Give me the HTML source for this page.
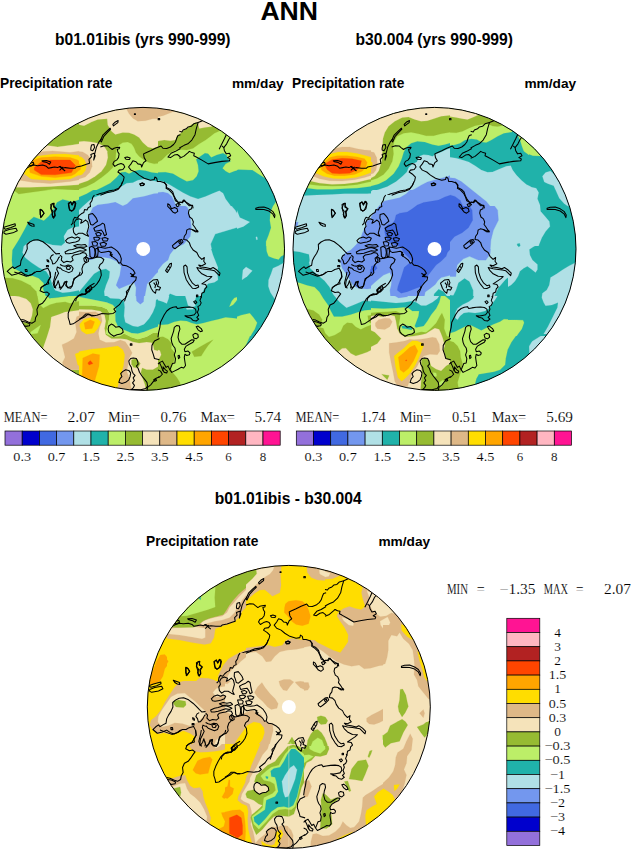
<!DOCTYPE html>
<html><head><meta charset="utf-8">
<style>
html,body{margin:0;padding:0;background:#fff;}
body{width:631px;height:850px;overflow:hidden;position:relative;font-family:"Liberation Sans",sans-serif;}
svg{position:absolute;left:0;top:0;}
.b{font-family:"Liberation Sans",sans-serif;font-weight:bold;fill:#000;}
.s{font-family:"Liberation Serif",serif;fill:#000;stroke:#fff;stroke-width:0.12px;}
</style></head><body>
<svg width="631" height="850" viewBox="0 0 631 850">
<defs>
<clipPath id="c1"><circle cx="143.0" cy="248.9" r="141.5"/></clipPath>
<clipPath id="c2"><circle cx="434.5" cy="248.9" r="141.5"/></clipPath>
<clipPath id="c3"><circle cx="288.8" cy="706.9" r="141.5"/></clipPath>
<g id="coast" fill="none" stroke="#000" stroke-width="1.05" stroke-linejoin="round">
<clipPath id="cw"><path clip-rule="evenodd" d="M-10 0H640V860H-10Z M60 195H139V301H60Z"/></clipPath>
<g clip-path="url(#cw)">
<path d="M3.1 227.6 L7.86 225.97 L15.12 223.84 L15.37 225.72 L10.99 227.6 L5.36 229.22 Z"/>
<path d="M4.11 231.35 L9.11 229.48 L16.0 228.22 L17.25 230.73 L12.87 232.86 L5.98 234.23 L3.86 232.98 Z"/>
<path d="M27.64 222.21 L30.4 223.22 L33.9 224.47 L34.15 226.35 L31.65 225.97 L29.15 224.47 Z"/>
<path d="M40.16 209.19 L42.29 210.45 L44.17 213.2 L42.29 215.7 L40.66 217.58 L40.41 213.83 Z"/>
<path d="M52.31 203.81 L54.19 203.18 L53.56 206.94 L56.69 208.82 L54.81 211.95 L55.19 215.7 L53.56 218.21 L51.93 214.45 L52.93 211.32 L50.68 208.19 Z"/>
<path d="M68.96 203.18 L71.09 201.68 L72.34 205.06 L74.22 201.93 L76.09 201.68 L75.22 206.94 L72.96 211.32 L70.46 210.07 L68.96 206.94 Z"/>
<path d="M53.56 254.51 L51.43 255.77 L50.18 258.27 L51.93 260.77 L52.68 263.9 L54.81 263.53 L57.32 260.52 L58.94 257.27 L61.7 256.39 L61.95 254.26 L59.19 253.51 L56.06 253.89 L53.56 251.38 L50.43 248.0 L47.3 245.13 L42.92 241.74 L37.91 239.74 L33.53 240.12 L29.77 242.0 L27.02 244.5 L27.27 248.88 L25.39 253.26 L22.89 257.02 L21.01 260.77 L20.38 265.16 L17.25 266.78 L14.37 268.54 L12.87 266.78 L10.12 268.66 L7.24 271.42 L11.62 275.17 L16.63 273.92 L21.01 272.04 L24.76 274.55 L28.52 275.8 L32.9 273.92 L36.66 271.42 L40.41 271.42 L43.54 269.54 L47.93 268.29 L49.8 272.04 L50.43 277.05 L48.55 280.81 L46.05 284.56 L42.29 286.44 L40.41 288.32"/>
<path d="M25.14 269.54 L26.89 269.54 L27.14 271.54 L25.39 271.54 Z"/>
<path d="M46.92 259.77 L48.43 260.27 L48.93 262.03 L47.42 261.53 Z"/>
<path d="M46.42 265.53 L48.43 265.53 L48.43 266.78 L46.42 266.78 Z"/>
<path d="M80.48 215.08 L75.47 216.33 L72.34 218.21 L71.71 221.96 L69.83 225.09 L72.96 225.72 L75.47 223.22 L74.84 219.46 L78.6 217.58"/>
<path d="M80.48 231.35 L75.47 232.61 L71.71 231.35 L68.58 233.86 L67.33 236.99 L70.46 238.24 L74.22 236.99 L80.48 235.74"/>
<path d="M66.08 240.12 L70.46 241.37 L74.22 240.74 L80.48 238.87"/>
<path d="M80.48 245.75 L75.47 247.0 L71.71 249.51 L67.96 250.13 L64.83 252.64 L67.96 254.51 L71.71 253.26 L75.47 251.38 L80.48 250.13"/>
<path d="M62.32 255.77 L65.45 257.02 L68.58 259.52 L72.96 258.27 L76.09 255.77 L80.48 257.02"/>
<path d="M80.48 262.03 L75.47 264.53 L71.71 265.16 L68.58 268.29 L64.83 267.03 L62.32 269.54 L59.82 268.29 L57.32 267.03 L56.69 269.54 L58.57 273.29 L56.69 277.05 L54.81 280.81 L54.19 285.81 L56.06 288.32"/>
<path d="M66.7 267.03 L69.21 265.53 L71.96 267.03 L70.46 269.54 L67.71 269.54 Z"/>
<path d="M80.48 275.17 L75.47 277.68 L73.59 282.06 L72.34 288.32"/>
<path d="M59.19 288.32 L60.45 283.31 L62.32 279.55 L64.2 282.06 L65.45 288.32"/>
<path d="M122.54 181.9 L121.29 185.03 L118.79 188.16 L114.41 190.04 L109.4 190.66 L104.39 192.54 L99.38 193.79 L95.0 195.67 L92.5 197.55 L91.87 201.31 L89.99 204.44 L88.74 207.57 L86.24 208.82 L84.36 211.32 L81.85 213.2 L79.35 215.08"/>
<path d="M140.07 183.78 L142.58 182.9 L144.45 184.15 L142.58 185.41 L140.45 185.03 Z"/>
<path d="M88.11 215.08 L91.24 213.2 L93.75 214.45 L95.63 217.58 L98.13 219.46 L96.25 221.96 L93.12 223.84 L91.24 222.59 L89.99 219.46 L88.11 217.58 Z"/>
<path d="M101.26 223.22 L103.76 222.21 L105.02 225.72 L105.64 230.1 L103.76 231.35 L101.89 228.22 L100.01 225.72 Z"/>
<path d="M94.37 228.85 L98.13 226.97 L100.63 230.1 L99.38 233.23 L95.63 233.86 L93.75 231.98 Z"/>
<path d="M103.14 231.98 L106.27 231.35 L107.14 235.11 L105.02 236.36 L102.89 234.48 Z"/>
<path d="M93.75 236.99 L98.13 236.36 L101.26 237.61 L100.63 240.12 L96.88 240.74 L93.37 239.49 Z"/>
<path d="M102.51 239.49 L106.27 238.49 L108.77 240.74 L106.89 243.25 L103.76 242.62 Z"/>
<path d="M91.24 243.25 L95.63 242.62 L98.13 244.5 L96.88 247.0 L92.5 247.0 Z"/>
<path d="M100.01 245.13 L104.39 244.5 L106.27 247.0 L103.76 249.51 L100.63 248.25 Z"/>
<path d="M95.63 248.25 L98.13 250.13 L100.63 252.01 L105.02 252.64 L109.4 251.38 L110.65 247.0 L113.15 248.25 L116.28 252.01 L119.41 255.77 L120.67 259.52 L118.79 262.03 L115.66 261.4 L112.15 260.15 L109.4 262.03 L106.27 260.15 L102.51 257.02 L98.13 256.39 L96.25 253.26 Z"/>
<path d="M89.99 248.25 L93.12 248.88 L94.37 253.26 L93.75 257.02 L91.24 257.64 L89.99 253.26 Z"/>
<path d="M79.35 231.98 L83.11 231.35 L86.24 232.61 L87.49 235.74 L84.98 237.61 L80.6 236.99 L79.35 236.36"/>
<path d="M79.35 240.12 L83.73 239.49 L86.86 241.37 L86.24 244.5 L81.85 245.13 L79.35 243.87"/>
<path d="M79.35 248.25 L84.36 248.25 L87.49 250.76 L88.11 255.77 L85.61 259.52 L83.11 262.03 L84.36 257.02 L81.85 253.26 L79.35 252.64"/>
<path d="M79.35 218.21 L81.23 219.46 L82.48 222.59 L80.6 223.22 L79.35 221.96"/>
<path d="M89.99 288.32 L91.24 285.19 L94.37 282.68 L98.13 278.93 L100.63 274.55 L101.26 269.54 L98.76 265.78 L99.38 262.03 L101.26 258.27 L103.14 260.15 L106.27 262.03 L110.65 263.9 L115.66 262.03 L119.41 262.65 L122.54 265.16 L128.18 265.78 L131.93 268.29 L133.81 272.04 L131.93 273.92 L134.44 275.17 L136.94 277.05 L135.69 280.18 L133.19 283.31 L130.68 285.81 L129.43 288.32"/>
<path d="M129.43 273.92 L132.56 275.17 L134.44 274.55"/>
<path d="M130.06 276.42 L133.19 273.92"/>
<path d="M85.61 260.77 L83.73 265.16 L81.85 269.54 L79.98 273.29 L79.35 275.8"/>
</g>
<path d="M26.36 168.23 L30.11 166.35 L33.87 165.1 L37.63 165.73 L42.63 165.1 L46.39 166.35 L48.27 168.23 L51.4 167.61 L54.53 166.98 L57.66 167.61 L60.16 166.35 L62.67 168.23 L65.17 167.61 L70.18 168.23 L75.19 168.23 L76.44 166.98 L81.45 165.98 L86.45 164.22 L89.58 163.22 L88.96 159.47 L91.46 156.96 L90.83 154.46 L93.96 153.21 L95.22 155.71 L93.71 160.09 L94.59 154.46 L96.47 146.95 L98.97 141.94 L101.48 138.81"/>
<path d="M30.11 163.22 L33.24 162.22 L33.87 164.22 L31.12 165.73 L28.86 165.1 Z"/>
<path d="M42.01 160.72 L46.39 160.47 L50.77 161.97 L49.52 164.22 L47.02 162.6 L43.26 161.72 Z"/>
<path d="M58.91 166.35 L62.04 168.48 L65.17 170.99"/>
<path d="M59.54 170.48 L63.29 166.98"/>
<path d="M90.83 148.2 L91.46 145.07 L93.96 144.44 L94.59 147.57 L92.71 150.7 L90.83 150.08 Z"/>
<path d="M40.13 209.55 L42.01 210.17 L43.89 213.3 L41.38 217.06 L40.13 214.55 Z"/>
<path d="M50.77 204.54 L53.28 203.29 L54.15 206.42 L56.41 208.92 L54.15 211.42 L54.9 215.81 L52.65 217.06 L52.4 213.3 L51.15 209.55 Z"/>
<path d="M68.3 203.29 L70.8 202.03 L72.06 205.16 L73.93 202.03 L75.81 203.29 L74.56 208.92 L72.06 210.8 L69.55 210.17 L68.67 206.42 Z"/>
<path d="M100.35 140.71 L102.85 135.08 L106.61 131.32 L110.12 128.19 L110.62 129.19 L107.24 132.57 L103.86 136.33 L101.35 141.96 Z"/>
<path d="M112.87 124.44 L115.37 121.93 L118.13 120.43 L117.88 122.56 L115.37 124.44 L113.5 125.94 Z"/>
<path d="M134.4 113.67 L135.41 113.67 L135.41 114.42 L134.4 114.42 Z"/>
<path d="M158.19 118.43 L159.69 118.43 L159.69 119.68 L158.19 119.68 Z"/>
<path d="M100.35 146.97 L104.11 145.72 L107.86 145.97 L109.74 147.6 L112.24 149.48 L114.12 148.22 L116.63 147.6 L119.76 147.22 L119.13 148.85 L117.25 149.22 L117.88 151.98 L119.13 153.86 L118.5 157.61 L116.63 160.12 L114.12 161.37 L112.87 163.87 L114.75 166.38 L117.88 164.5 L121.01 163.5 L123.51 164.5 L124.76 167.0 L122.89 169.51 L119.13 170.13 L117.88 172.01 L121.63 174.51 L124.14 177.02 L123.51 180.15 L122.26 182.65 L121.01 185.78 L117.88 189.54 L112.87 191.42 L106.61 192.67 L100.35 195.17"/>
<path d="M124.76 157.61 L127.27 156.99 L130.15 157.99 L129.4 159.49 L126.02 159.24 Z"/>
<path d="M180.48 134.7 L177.97 135.45 L176.72 138.21 L175.47 141.96 L173.59 144.47 L170.46 146.97 L166.7 148.47 L162.95 148.22 L161.07 145.97 L155.44 148.22 L150.43 150.73 L145.42 152.98 L143.54 153.86 L144.17 157.61 L146.05 160.74 L143.54 162.62 L141.67 167.0 L141.04 164.5 L137.91 163.87 L136.03 161.74 L132.9 160.74 L131.02 163.87 L128.52 167.0 L131.02 170.13 L135.41 172.01 L139.16 175.14 L144.17 178.27 L150.43 180.15 L154.19 179.52 L154.81 177.02 L156.69 178.27 L157.32 181.4 L160.45 181.4 L164.2 182.65 L166.7 185.16 L166.08 188.29 L169.21 190.16 L172.34 193.29 L174.22 197.05 L175.47 200.81 L177.97 202.06 L180.48 205.19"/>
<path d="M180.48 148.47 L175.47 151.35 L171.09 153.23 L167.96 156.99 L170.46 157.61 L174.22 155.11 L177.35 154.48 L180.48 156.99"/>
<path d="M139.79 183.9 L142.29 183.03 L144.42 183.9 L143.54 185.53 L140.66 185.78 Z"/>
<path d="M202.51 120.68 L198.13 122.56 L196.25 128.82 L195.0 134.7 L191.87 140.09 L187.86 143.84 L184.11 145.34 L179.35 147.97"/>
<path d="M198.13 122.56 L193.75 123.81 L191.24 126.31 L188.11 126.94 L186.24 128.82 L183.11 130.07 L181.85 131.95 L179.35 131.32"/>
<path d="M179.35 158.24 L183.73 156.36 L188.11 152.61 L189.37 151.35 L191.87 152.61 L194.37 153.23 L193.75 155.74 L196.25 156.99 L201.89 160.12 L208.15 163.87 L214.41 162.62 L221.92 161.37 L229.43 160.74 L230.06 158.87 L227.55 157.61 L230.68 155.74 L229.43 153.23 L226.3 153.86 L224.42 150.73 L223.8 147.6 L221.92 145.97"/>
<path d="M219.16 149.22 L221.29 145.09 L224.42 138.83 L226.3 134.7"/>
<path d="M223.8 147.6 L226.67 143.84 L228.8 139.46 L230.43 137.21"/>
<path d="M179.35 202.06 L182.48 202.68 L184.36 200.18 L186.86 203.31 L189.37 205.81 L192.5 205.19 L193.12 208.32"/>
<path d="M163.98 181.9 L165.86 184.4 L166.49 187.53 L170.24 189.41 L172.75 191.92 L174.0 195.67 L175.88 199.43 L178.38 202.56 L182.14 201.93 L183.39 200.05 L186.52 202.56 L189.65 204.44 L192.15 205.69 L191.53 208.82 L189.02 210.07 L188.4 213.2 L189.65 216.96 L192.15 218.83 L193.41 221.96 L192.78 224.47 L194.66 226.97 L197.79 231.98 L192.15 229.48 L189.02 228.85 L186.52 230.1"/>
<path d="M167.74 203.81 L169.62 205.06 L171.5 208.82 L174.63 207.57 L177.13 208.82 L177.76 211.32 L175.25 213.2 L172.75 211.95 L170.24 208.82 L167.74 206.31 Z"/>
<path d="M175.88 204.44 L178.38 203.18 L179.01 205.69 L177.13 206.69 Z"/>
<path d="M186.82 230.0 L186.19 233.76 L184.32 236.26 L183.69 239.39 L186.82 240.02 L189.32 242.52 L190.58 246.28 L193.08 250.03 L196.84 252.54 L198.71 256.29 L201.84 259.42 L204.35 257.54 L203.72 261.3 L205.6 263.8 L201.84 265.68 L198.71 265.06 L200.59 266.93 L205.6 267.56 L210.61 268.81 L213.11 267.56 L216.87 270.06 L220.0 273.19 L219.37 275.7 L216.87 273.19 L214.36 270.69 L211.23 270.06 L206.85 269.44 L201.84 268.81 L196.84 267.56 L198.71 270.69 L201.84 273.82 L206.85 276.32 L211.86 276.57 L209.35 278.83 L205.6 281.33 L201.84 283.84 L205.6 284.46 L206.85 286.97 L204.97 288.84 L204.35 291.97 L201.84 293.23 L201.22 297.61"/>
<path d="M196.46 295.1 L197.84 295.1 L197.84 296.73 L196.46 296.73 Z"/>
<path d="M172.42 245.65 L176.18 242.52 L179.31 240.02 L181.81 239.39 L183.06 241.89 L180.56 244.4 L177.43 246.9 L174.93 248.78 L173.05 247.53 Z"/>
<path d="M178.68 241.89 L180.56 240.64 L181.19 242.52 L179.56 243.52 Z"/>
<path d="M192.45 230.0 L195.58 231.88 L198.09 231.25 L196.84 230.0"/>
<path d="M165.54 270.69 L167.41 267.56 L169.92 263.8 L171.55 263.18 L171.17 266.31 L169.29 269.44 L167.41 272.57 Z"/>
<path d="M168.04 266.31 L169.92 267.56"/>
<path d="M166.79 269.81 L168.67 270.31"/>
<path d="M149.26 283.21 L153.02 280.08 L157.4 279.45 L158.65 282.58 L157.4 286.34 L160.53 287.59 L159.28 290.1 L156.15 289.47 L155.52 293.23 L153.02 291.35 L151.14 288.22 Z"/>
<path d="M153.64 282.58 L155.52 285.09 L154.89 288.22"/>
<path d="M156.15 281.33 L156.77 285.09"/>
<path d="M183.69 266.31 L185.57 265.06 L187.07 266.93 L187.45 272.57 L189.32 278.2 L192.45 283.21 L195.58 285.71 L198.09 285.09 L198.71 286.97 L195.58 288.59 L192.45 288.22 L189.32 284.46 L186.19 279.45 L184.06 272.57 Z"/>
<path d="M255.79 208.22 L258.92 207.21 L263.93 206.96 L268.93 208.84 L272.69 211.35 L274.94 215.1 L274.57 217.61 L272.69 213.85 L268.93 210.97 L263.93 209.47 L258.92 209.22 L255.79 209.47 Z"/>
<path d="M85.61 289.66 L88.11 287.78 L91.24 286.53 L91.87 289.03 L89.37 291.53 L86.86 290.91 Z"/>
<path d="M79.35 295.29 L83.11 294.66 L86.24 293.41 L85.61 290.28"/>
<path d="M79.35 319.08 L82.48 317.2 L85.61 314.07 L88.74 314.07 L91.87 315.95 L96.88 315.32 L101.89 313.44 L108.15 314.07 L113.15 313.44 L115.66 311.57 L113.78 309.06 L116.28 307.18 L119.41 304.68 L121.92 300.92 L125.05 298.42 L126.93 294.66 L126.3 291.53 L128.8 289.03 L130.06 285.9"/>
<path d="M108.15 329.09 L108.77 325.96 L111.28 324.09 L113.78 325.34 L115.66 327.22 L119.41 326.59 L122.54 329.09 L123.17 332.22 L120.67 334.1 L116.91 334.73 L113.78 336.23 L110.65 334.1 L108.77 332.22 Z"/>
<path d="M130.31 343.87 L131.93 343.87 L131.93 345.24 L130.31 345.24 Z"/>
<path d="M159.48 338.48 L154.47 340.99 L151.96 345.37 L151.71 349.75 L153.22 354.13 L154.47 358.51 L159.48 359.77"/>
<path d="M128.8 361.02 L130.68 358.51 L133.19 357.89 L136.32 358.51 L137.57 361.02 L138.19 364.15 L136.32 366.03 L138.19 368.53 L139.45 372.29 L141.95 376.04 L144.45 379.17 L146.96 382.3 L147.58 386.06 L145.7 388.56 L140.7 389.81 L134.44 389.56 L130.68 390.06 L133.19 387.94 L134.44 385.43 L132.56 382.93 L134.44 380.42 L133.19 377.92 L135.06 375.42 L133.19 373.54 L131.93 371.03 L131.31 367.28 L129.43 364.15 Z"/>
<path d="M120.67 373.54 L122.54 371.66 L125.67 369.78 L128.8 370.41 L130.68 372.91 L130.06 376.67 L128.8 379.8 L125.67 382.3 L121.92 383.55 L118.79 382.3 L120.04 378.55 L121.92 376.67 Z"/>
<path d="M159.48 376.67 L155.72 378.55 L153.22 381.68 L150.71 384.81 L147.58 387.31 L146.96 391.07"/>
<path d="M153.84 379.55 L155.72 378.8 L156.47 380.42 L154.72 381.3 Z"/>
<path d="M158.0 337.32 L158.63 332.31 L159.88 327.3 L160.5 322.29 L162.38 318.54 L164.26 314.78 L166.76 311.02 L169.89 308.52 L173.02 307.27 L176.15 306.64 L177.41 308.52 L180.54 307.89 L184.92 307.27 L189.3 307.02 L193.06 307.52 L195.56 309.15 L196.19 312.28 L194.31 314.78 L191.18 315.41 L188.05 316.03 L184.92 315.78 L187.42 317.28 L190.55 317.91 L193.06 320.41 L196.19 321.04 L198.69 319.16 L196.81 317.28 L198.69 315.41 L197.44 312.28 L198.69 309.15 L197.81 306.64 L199.94 305.39 L201.19 302.89 L199.94 300.38 L201.19 297.25 L200.57 296.0"/>
<path d="M193.68 301.63 L195.56 300.76 L196.81 302.26 L195.31 303.76 Z"/>
<path d="M174.28 327.3 L176.78 325.42 L179.28 326.05 L179.91 329.18 L178.66 332.93 L178.03 337.32 L179.28 341.7 L181.79 344.2 L184.92 344.2 L188.67 341.7 L191.8 339.82 L194.31 340.07 L193.06 342.32 L189.3 344.2 L186.17 346.08 L184.29 349.21 L184.92 351.71 L188.05 351.09 L189.93 352.97 L189.3 354.84 L186.8 355.47 L184.92 354.22 L184.29 357.35 L184.92 361.73 L185.54 365.48 L183.67 367.99 L181.16 367.36 L178.03 369.24 L174.28 371.12 L171.77 372.37 L169.89 369.87 L171.15 366.74 L172.4 363.61 L174.9 362.98 L175.53 358.6 L174.28 354.84 L175.53 351.09 L174.9 347.96 L173.02 345.45 L171.77 342.32 L171.15 338.57 L172.4 334.81 L173.65 331.06 Z"/>
<path d="M178.03 355.84 L179.28 355.34 L179.78 357.6 L178.53 358.6 Z"/>
<path d="M196.19 326.67 L198.06 326.05 L201.19 328.55 L202.45 331.06 L200.57 331.68 L198.06 329.8 Z"/>
<path d="M192.81 334.81 L194.93 333.31 L197.81 334.19 L198.31 337.06 L196.19 338.82 L193.68 337.94 Z"/>
<path d="M158.0 364.23 L159.88 362.35 L162.38 361.1 L164.26 364.23 L166.14 367.36 L168.02 366.11 L169.89 369.87"/>
<path d="M163.01 366.74 L165.51 369.87 L167.39 371.12 L166.76 373.0 L164.26 372.37 L163.01 370.49 Z"/>
<path d="M158.0 369.87 L160.5 371.12 L162.38 374.25 L159.88 376.75 L158.0 377.38"/>
<path d="M159.25 362.35 L161.13 366.11 L163.01 371.12"/>
<path d="M50.03 271.9 L50.66 276.91 L48.15 280.66 L48.78 283.79 L44.4 285.05 L41.27 287.55 L40.02 290.68 L43.77 292.56 L46.9 291.93 L49.41 293.81 L47.53 296.31 L45.02 300.07 L42.52 303.2 L38.76 305.08 L36.89 309.46 L37.51 314.47 L35.63 317.6 L35.01 321.35 L31.88 323.23 L28.12 321.98 L24.37 320.1 L21.24 319.48"/>
<path d="M21.24 321.35 L25.62 321.98 L30.0 323.86 L29.37 325.74 L25.62 326.36 L23.11 324.48 Z"/>
<path d="M14.35 271.9 L19.36 273.78 L26.24 276.28 L31.88 274.4 L35.01 271.9"/>
<path d="M55.67 271.9 L55.04 275.66 L54.41 278.16 L53.16 283.17 L54.41 287.55 L56.92 284.42 L58.17 280.66 L59.42 285.05 L60.67 288.18 L63.18 285.67 L64.43 281.92 L66.93 281.29 L65.68 285.67 L68.19 287.55 L71.94 286.3 L73.19 282.54 L73.82 278.79 L76.95 276.91 L79.45 274.4 L80.08 271.9"/>
<path d="M94.48 283.17 L90.09 285.67 L87.59 287.55 L85.71 290.68 L87.59 292.56 L85.09 294.44 L81.96 293.81 L78.2 295.69 L75.07 298.82 L72.57 303.2 L70.06 308.21 L68.19 313.22 L68.19 317.6 L69.44 321.35 L70.06 324.48 L73.19 323.86 L76.95 321.35 L80.7 318.85 L84.46 316.97 L87.59 314.47 L90.72 315.09 L94.48 315.72"/>
<path d="M94.43 195.0 L92.8 197.25 L91.93 200.63 L90.05 203.51 L90.55 206.52 L88.29 207.52 L87.04 210.02 L84.54 209.52 L83.79 212.53 L81.28 213.78 L79.03 215.66 L77.15 218.16 L74.77 217.29 L73.27 219.79 L72.77 223.17 L71.02 225.05"/>
<path d="M88.8 214.41 L92.55 213.53 L94.43 215.66 L96.31 218.16 L97.56 221.29 L95.06 223.17 L92.8 225.05 L90.67 224.42 L89.8 221.29 L88.55 218.16 Z"/>
<path d="M75.65 220.04 L78.78 218.79 L81.91 220.04 L80.66 223.17 L83.16 221.92 L85.67 220.04 L87.79 221.92 L88.8 226.3 L87.79 230.06 L86.92 233.19 L88.55 236.32 L85.67 235.06 L82.54 233.19 L78.78 233.19 L76.03 235.06 L73.77 232.56 L73.15 228.8 L74.77 226.3 L74.02 223.17 Z"/>
<path d="M93.8 228.18 L96.93 226.3 L100.06 225.05 L102.57 223.17 L104.45 224.42 L105.07 228.18 L105.7 231.31 L106.57 234.44 L104.45 235.69 L103.19 232.56 L101.32 230.06 L98.19 230.68 L95.06 231.31 Z"/>
<path d="M95.68 233.19 L98.81 232.31 L101.32 233.81 L100.06 235.69 L96.93 235.69 Z"/>
<path d="M93.8 237.57 L97.56 236.94 L100.06 238.19 L98.19 240.32 L94.43 240.07 Z"/>
<path d="M101.94 238.19 L105.07 237.57 L108.2 238.82 L106.95 241.07 L103.19 241.07 Z"/>
<path d="M91.93 241.95 L95.68 241.57 L97.56 243.2 L96.93 245.71 L93.18 246.08 Z"/>
<path d="M100.06 243.2 L103.82 242.32 L106.57 243.83 L105.07 246.33 L101.32 246.33 Z"/>
<path d="M89.42 247.58 L91.93 246.33 L94.43 248.21 L95.06 252.59 L94.43 256.97 L91.93 258.23 L90.05 256.35 L89.8 251.97 Z"/>
<path d="M95.68 248.84 L97.56 248.21 L98.19 251.34 L97.56 256.35 L96.06 256.97 L95.56 252.59 Z"/>
<path d="M97.56 246.96 L101.32 247.58 L105.07 248.21 L108.83 247.58 L111.33 246.96 L114.46 248.84 L117.59 251.34 L120.1 255.1 L121.35 258.85 L120.72 262.61 L118.84 263.23 L116.97 260.1 L113.84 257.6 L110.08 255.1 L111.33 252.59 L108.83 251.34 L105.07 251.97 L101.32 252.59 L99.06 251.34 Z"/>
<path d="M110.08 251.97 L111.58 256.35 L112.33 253.84"/>
<path d="M65.63 240.7 L68.14 238.19 L71.89 236.94 L75.02 238.19 L77.53 236.94 L80.03 238.19 L78.78 240.7 L75.65 241.95 L72.52 242.58 L69.39 243.2 L66.89 242.58 Z"/>
<path d="M60.0 255.1 L61.88 256.97 L61.25 260.1 L63.76 262.61 L66.89 261.35 L70.64 261.98 L73.15 260.1 L71.89 256.97 L73.77 255.1 L76.9 254.47 L80.03 253.84 L82.54 252.59 L85.67 253.22 L86.92 255.72 L85.04 257.6 L86.92 260.1 L85.04 263.23 L83.16 265.11 L81.91 268.87 L82.54 272.62 L80.66 275.13 L77.53 276.38 L75.02 278.26 L73.15 281.39 L72.52 285.14 L70.64 288.27 L67.51 287.65 L66.26 284.52 L66.89 281.39 L65.01 282.64 L63.13 285.77 L61.25 288.27 L60.0 289.52"/>
<path d="M65.01 251.97 L68.76 250.09 L72.52 249.46 L76.28 248.21 L80.03 247.58 L83.79 248.84 L86.29 250.09 L83.79 251.34 L80.03 250.71 L76.28 251.97 L72.52 253.22 L68.76 253.84 L65.63 253.84 Z"/>
<path d="M60.0 267.61 L62.5 270.12 L65.63 271.37 L68.76 272.62 L71.89 271.37 L73.15 268.24 L71.27 265.74 L68.14 265.11 L65.01 266.36 L62.5 265.74 L60.0 264.48"/>
<path d="M66.26 266.99 L68.76 266.11 L70.64 267.61 L69.39 269.49 L66.89 269.12 Z"/>
<path d="M73.77 245.71 L77.53 244.45 L81.28 245.08 L85.04 244.45 L86.92 246.33 L84.41 247.33 L80.66 246.96 L76.9 247.33 Z"/>
<path d="M120.72 263.23 L122.6 265.11 L126.35 265.74 L130.11 267.61 L133.24 270.12 L135.12 273.25 L133.24 275.13 L131.36 276.38 L136.37 277.0 L135.74 280.13 L133.24 282.64 L130.74 285.77 L128.86 290.15 L126.98 293.91 L125.73 297.66 L124.48 301.42"/>
<path d="M130.11 273.25 L133.87 275.75"/>
<path d="M130.74 277.0 L133.87 273.87"/>
<path d="M86.92 257.6 L89.42 258.85 L92.8 258.23 L97.56 256.97 L101.32 257.6 L103.82 259.48 L102.57 262.61 L100.06 264.48 L98.81 267.61 L100.69 270.12 L101.32 275.13 L99.44 280.13 L96.93 283.89 L93.8 287.02 L91.3 288.27 L89.42 290.15 L87.54 292.03 L85.67 293.91 L81.91 294.53 L78.78 295.78 L76.28 298.29 L75.65 301.42"/>
<path d="M85.67 290.15 L88.17 288.27 L90.05 289.52 L89.05 292.03 L86.29 292.4 Z"/>
<path d="M68.76 203.76 L70.64 201.89 L71.89 204.39 L73.77 201.26 L75.27 201.89 L74.77 206.27 L73.15 210.02 L71.27 211.28 L69.39 208.77 Z"/>
<path d="M83.79 258.23 L85.67 256.97 L88.17 258.23 L88.55 261.35 L86.29 262.61 L84.41 261.35 Z"/>

<circle cx="143.2" cy="248.9" r="7" fill="#fff" stroke="none"/>
</g>
</defs>
<!-- TEXT -->
<g id="text">
<text class="b" x="289.2" y="19.5" font-size="26.6" text-anchor="middle">ANN</text>
<text class="b" x="142.75" y="45" font-size="15.65" text-anchor="middle">b01.01ibis (yrs 990-999)</text>
<text class="b" x="434.25" y="45" font-size="15.65" text-anchor="middle">b30.004 (yrs 990-999)</text>
<text class="b" x="0" y="88" font-size="13.75">Precipitation rate</text>
<text class="b" x="283.7" y="88" font-size="13.7" text-anchor="end">mm/day</text>
<text class="b" x="292" y="88" font-size="13.75">Precipitation rate</text>
<text class="b" x="576.2" y="88" font-size="13.7" text-anchor="end">mm/day</text>
<text class="b" x="288.25" y="503.7" font-size="15.65" text-anchor="middle">b01.01ibis - b30.004</text>
<text class="b" x="146" y="545.7" font-size="13.75">Precipitation rate</text>
<text class="b" x="430.2" y="545.7" font-size="13.7" text-anchor="end">mm/day</text>
</g>
<!-- COLORBARS -->
<g id="bars">
<g stroke="#000" stroke-width="0.7"><rect x="5.00" y="431" width="17.2" height="14.2" fill="#9370db"/><rect x="22.20" y="431" width="17.2" height="14.2" fill="#0000cd"/><rect x="39.40" y="431" width="17.2" height="14.2" fill="#4169e1"/><rect x="56.60" y="431" width="17.2" height="14.2" fill="#7397ee"/><rect x="73.80" y="431" width="17.2" height="14.2" fill="#b0e0e6"/><rect x="91.00" y="431" width="17.2" height="14.2" fill="#20b2aa"/><rect x="108.20" y="431" width="17.2" height="14.2" fill="#bcee68"/><rect x="125.40" y="431" width="17.2" height="14.2" fill="#96bb32"/><rect x="142.60" y="431" width="17.2" height="14.2" fill="#f5e3ba"/><rect x="159.80" y="431" width="17.2" height="14.2" fill="#deb887"/><rect x="177.00" y="431" width="17.2" height="14.2" fill="#ffdd00"/><rect x="194.20" y="431" width="17.2" height="14.2" fill="#ffa500"/><rect x="211.40" y="431" width="17.2" height="14.2" fill="#ff4500"/><rect x="228.60" y="431" width="17.2" height="14.2" fill="#b22222"/><rect x="245.80" y="431" width="17.2" height="14.2" fill="#ffb6c1"/><rect x="263.00" y="431" width="17.2" height="14.2" fill="#ff1493"/></g>
<text class="s" x="13.30" y="460.5" font-size="12.8" textLength="17.8" lengthAdjust="spacingAndGlyphs">0.3</text><text class="s" x="47.70" y="460.5" font-size="12.8" textLength="17.8" lengthAdjust="spacingAndGlyphs">0.7</text><text class="s" x="82.10" y="460.5" font-size="12.8" textLength="17.8" lengthAdjust="spacingAndGlyphs">1.5</text><text class="s" x="116.50" y="460.5" font-size="12.8" textLength="17.8" lengthAdjust="spacingAndGlyphs">2.5</text><text class="s" x="150.90" y="460.5" font-size="12.8" textLength="17.8" lengthAdjust="spacingAndGlyphs">3.5</text><text class="s" x="185.30" y="460.5" font-size="12.8" textLength="17.8" lengthAdjust="spacingAndGlyphs">4.5</text><text class="s" x="225.35" y="460.5" font-size="12.8" textLength="6.5" lengthAdjust="spacingAndGlyphs">6</text><text class="s" x="259.75" y="460.5" font-size="12.8" textLength="6.5" lengthAdjust="spacingAndGlyphs">8</text>
<g stroke="#000" stroke-width="0.7"><rect x="296.30" y="431" width="17.2" height="14.2" fill="#9370db"/><rect x="313.50" y="431" width="17.2" height="14.2" fill="#0000cd"/><rect x="330.70" y="431" width="17.2" height="14.2" fill="#4169e1"/><rect x="347.90" y="431" width="17.2" height="14.2" fill="#7397ee"/><rect x="365.10" y="431" width="17.2" height="14.2" fill="#b0e0e6"/><rect x="382.30" y="431" width="17.2" height="14.2" fill="#20b2aa"/><rect x="399.50" y="431" width="17.2" height="14.2" fill="#bcee68"/><rect x="416.70" y="431" width="17.2" height="14.2" fill="#96bb32"/><rect x="433.90" y="431" width="17.2" height="14.2" fill="#f5e3ba"/><rect x="451.10" y="431" width="17.2" height="14.2" fill="#deb887"/><rect x="468.30" y="431" width="17.2" height="14.2" fill="#ffdd00"/><rect x="485.50" y="431" width="17.2" height="14.2" fill="#ffa500"/><rect x="502.70" y="431" width="17.2" height="14.2" fill="#ff4500"/><rect x="519.90" y="431" width="17.2" height="14.2" fill="#b22222"/><rect x="537.10" y="431" width="17.2" height="14.2" fill="#ffb6c1"/><rect x="554.30" y="431" width="17.2" height="14.2" fill="#ff1493"/></g>
<text class="s" x="304.60" y="460.5" font-size="12.8" textLength="17.8" lengthAdjust="spacingAndGlyphs">0.3</text><text class="s" x="339.00" y="460.5" font-size="12.8" textLength="17.8" lengthAdjust="spacingAndGlyphs">0.7</text><text class="s" x="373.40" y="460.5" font-size="12.8" textLength="17.8" lengthAdjust="spacingAndGlyphs">1.5</text><text class="s" x="407.80" y="460.5" font-size="12.8" textLength="17.8" lengthAdjust="spacingAndGlyphs">2.5</text><text class="s" x="442.20" y="460.5" font-size="12.8" textLength="17.8" lengthAdjust="spacingAndGlyphs">3.5</text><text class="s" x="476.60" y="460.5" font-size="12.8" textLength="17.8" lengthAdjust="spacingAndGlyphs">4.5</text><text class="s" x="516.65" y="460.5" font-size="12.8" textLength="6.5" lengthAdjust="spacingAndGlyphs">6</text><text class="s" x="551.05" y="460.5" font-size="12.8" textLength="6.5" lengthAdjust="spacingAndGlyphs">8</text>
<g stroke="#000" stroke-width="0.7"><rect x="506.8" y="618.30" width="33" height="14.2" fill="#ff1493"/><rect x="506.8" y="632.50" width="33" height="14.2" fill="#ffb6c1"/><rect x="506.8" y="646.70" width="33" height="14.2" fill="#b22222"/><rect x="506.8" y="660.90" width="33" height="14.2" fill="#ff4500"/><rect x="506.8" y="675.10" width="33" height="14.2" fill="#ffa500"/><rect x="506.8" y="689.30" width="33" height="14.2" fill="#ffdd00"/><rect x="506.8" y="703.50" width="33" height="14.2" fill="#deb887"/><rect x="506.8" y="717.70" width="33" height="14.2" fill="#f5e3ba"/><rect x="506.8" y="731.90" width="33" height="14.2" fill="#96bb32"/><rect x="506.8" y="746.10" width="33" height="14.2" fill="#bcee68"/><rect x="506.8" y="760.30" width="33" height="14.2" fill="#20b2aa"/><rect x="506.8" y="774.50" width="33" height="14.2" fill="#b0e0e6"/><rect x="506.8" y="788.70" width="33" height="14.2" fill="#7397ee"/><rect x="506.8" y="802.90" width="33" height="14.2" fill="#4169e1"/><rect x="506.8" y="817.10" width="33" height="14.2" fill="#0000cd"/><rect x="506.8" y="831.30" width="33" height="14.2" fill="#9370db"/></g>
<text class="s" x="554.15" y="636.60" font-size="12.8" textLength="6.7" lengthAdjust="spacingAndGlyphs">4</text><text class="s" x="554.15" y="650.80" font-size="12.8" textLength="6.7" lengthAdjust="spacingAndGlyphs">3</text><text class="s" x="554.15" y="665.00" font-size="12.8" textLength="6.7" lengthAdjust="spacingAndGlyphs">2</text><text class="s" x="548.75" y="679.20" font-size="12.8" textLength="17.5" lengthAdjust="spacingAndGlyphs">1.5</text><text class="s" x="554.15" y="693.40" font-size="12.8" textLength="6.7" lengthAdjust="spacingAndGlyphs">1</text><text class="s" x="548.75" y="707.60" font-size="12.8" textLength="17.5" lengthAdjust="spacingAndGlyphs">0.5</text><text class="s" x="548.75" y="721.80" font-size="12.8" textLength="17.5" lengthAdjust="spacingAndGlyphs">0.3</text><text class="s" x="554.15" y="736.00" font-size="12.8" textLength="6.7" lengthAdjust="spacingAndGlyphs">0</text><text class="s" x="544.50" y="750.20" font-size="12.8" textLength="26" lengthAdjust="spacingAndGlyphs">−0.3</text><text class="s" x="544.50" y="764.40" font-size="12.8" textLength="26" lengthAdjust="spacingAndGlyphs">−0.5</text><text class="s" x="550.00" y="778.60" font-size="12.8" textLength="15" lengthAdjust="spacingAndGlyphs">−1</text><text class="s" x="544.50" y="792.80" font-size="12.8" textLength="26" lengthAdjust="spacingAndGlyphs">−1.5</text><text class="s" x="550.00" y="807.00" font-size="12.8" textLength="15" lengthAdjust="spacingAndGlyphs">−2</text><text class="s" x="550.00" y="821.20" font-size="12.8" textLength="15" lengthAdjust="spacingAndGlyphs">−3</text><text class="s" x="550.00" y="835.40" font-size="12.8" textLength="15" lengthAdjust="spacingAndGlyphs">−4</text>
</g>
<g id="stats">
<text class="s" x="3.75" y="421.8" font-size="13.6" textLength="43.75" lengthAdjust="spacingAndGlyphs">MEAN=</text><text class="s" x="67.5" y="421.8" font-size="13.6" textLength="27.50" lengthAdjust="spacingAndGlyphs">2.07</text><text class="s" x="108" y="421.8" font-size="13.6" textLength="32.00" lengthAdjust="spacingAndGlyphs">Min=</text><text class="s" x="160.5" y="421.8" font-size="13.6" textLength="26.00" lengthAdjust="spacingAndGlyphs">0.76</text><text class="s" x="200.5" y="421.8" font-size="13.6" textLength="34.50" lengthAdjust="spacingAndGlyphs">Max=</text><text class="s" x="254.5" y="421.8" font-size="13.6" textLength="26.75" lengthAdjust="spacingAndGlyphs">5.74</text>
<text class="s" x="295.5" y="421.8" font-size="13.6" textLength="43.75" lengthAdjust="spacingAndGlyphs">MEAN=</text><text class="s" x="360.75" y="421.8" font-size="13.6" textLength="25.00" lengthAdjust="spacingAndGlyphs">1.74</text><text class="s" x="400" y="421.8" font-size="13.6" textLength="31.25" lengthAdjust="spacingAndGlyphs">Min=</text><text class="s" x="452" y="421.8" font-size="13.6" textLength="25.00" lengthAdjust="spacingAndGlyphs">0.51</text><text class="s" x="491.75" y="421.8" font-size="13.6" textLength="34.50" lengthAdjust="spacingAndGlyphs">Max=</text><text class="s" x="546.25" y="421.8" font-size="13.6" textLength="26.75" lengthAdjust="spacingAndGlyphs">5.69</text>
<text class="s" x="447" y="593.8" font-size="13.6" textLength="21.00" lengthAdjust="spacingAndGlyphs">MIN</text><text class="s" x="476.75" y="593.8" font-size="13.6" textLength="8.00" lengthAdjust="spacingAndGlyphs">=</text><text class="s" x="499.75" y="593.8" font-size="13.6" textLength="35.75" lengthAdjust="spacingAndGlyphs">−1.35</text><text class="s" x="543.75" y="593.8" font-size="13.6" textLength="24.25" lengthAdjust="spacingAndGlyphs">MAX</text><text class="s" x="576" y="593.8" font-size="13.6" textLength="7.50" lengthAdjust="spacingAndGlyphs">=</text><text class="s" x="604" y="593.8" font-size="13.6" textLength="27.00" lengthAdjust="spacingAndGlyphs">2.07</text>
</g>
<!-- MAP1 -->
<g id="map1" clip-path="url(#c1)">
<clipPath id="k1A"><rect x="0" y="100" width="143" height="149"/></clipPath>
<g clip-path="url(#k1A)"><g transform="translate(0,100) scale(0.25040)">
<rect x="-50" y="-50" width="800" height="1000" fill="#bcee68"/>
<polygon fill="#96bb32" stroke="#96bb32" stroke-width="1.5" points="-10,384 52,381 85,376 150,363 215,355 250,356 316,360 380,340 430,310 450,280 452,240 440,205 425,175 430,155 470,160 510,165 550,185 580,215 610,245 640,255 640,-10 -10,-10"/>
<polygon fill="#f5e3ba" stroke="#f5e3ba" stroke-width="1.5" points="358,73 395,90 425,80 440,100 445,130 475,133 510,125 545,133 575,158 600,180 640,190 640,-10 340,-10"/>
<polygon fill="#deb887" stroke="#deb887" stroke-width="1.5" points="505,38 525,62 565,80 640,72 640,-10 500,-10"/>
<polygon fill="#f5e3ba" stroke="#f5e3ba" stroke-width="1.5" points="188,182 230,188 290,180 340,172 390,175 425,195 438,230 432,270 410,300 370,322 310,338 200,345 120,348 60,348 40,300 120,200"/>
<polygon fill="#deb887" stroke="#deb887" stroke-width="1.5" points="140,215 165,207 210,204 280,210 316,205 340,210 365,230 370,260 350,290 316,318 280,325 200,333 130,328 80,320 60,290"/>
<polygon fill="#ffdd00" stroke="#ffdd00" stroke-width="1.5" points="120,240 150,225 210,217 260,216 316,222 335,228 348,245 345,270 325,295 280,315 200,320 125,315 97,295 90,270"/>
<polygon fill="#ffa500" stroke="#ffa500" stroke-width="1.5" points="118,275 131,241 165,230 220,227 280,230 310,240 328,255 322,275 300,295 285,303 220,310 165,305 120,290"/>
<polygon fill="#ff4500" stroke="#ff4500" stroke-width="1.5" points="137,270 165,247 200,240 280,240 302,262 285,290 220,299 165,298 137,280"/>
<polygon fill="#20b2aa" stroke="#20b2aa" stroke-width="1.5" points="640,285 560,280 520,290 490,300 470,345 430,365 370,380 330,400 270,405 240,398 190,440 165,470 120,465 100,500 85,545 55,580 48,640 640,640"/>
<polygon fill="#b0e0e6" stroke="#b0e0e6" stroke-width="1.5" points="640,330 590,328 560,318 530,330 500,345 480,370 440,385 400,395 370,400 350,430 320,455 290,480 270,510 255,545 250,578 200,573 150,560 112,570 95,600 95,640 640,640"/>
<polygon fill="#7397ee" stroke="#7397ee" stroke-width="1.5" points="640,375 600,378 560,385 520,400 495,420 460,408 420,415 380,420 355,440 350,470 355,500 350,530 355,560 360,600 360,640 640,640"/>
</g></g>
<clipPath id="k1B"><rect x="143" y="100" width="147" height="149"/></clipPath>
<g clip-path="url(#k1B)"><g transform="translate(140,100) scale(0.25040)">
<rect x="-50" y="-50" width="800" height="1000" fill="#bcee68"/>
<polygon fill="#96bb32" stroke="#96bb32" stroke-width="1.5" points="-10,165 -10,250 40,255 80,240 130,205 175,195 200,180 250,160 290,140 320,125 345,120 330,60 -10,-10"/>
<polygon fill="#f5e3ba" stroke="#f5e3ba" stroke-width="1.5" points="-10,165 30,185 70,180 95,160 150,150 190,120 235,105 270,98 310,100 300,-10 -10,-10"/>
<polygon fill="#deb887" stroke="#deb887" stroke-width="1.5" points="-10,82 60,78 110,62 160,48 170,-10 -10,-10"/>
<polygon fill="#20b2aa" stroke="#20b2aa" stroke-width="1.5" points="-10,285 50,295 120,300 180,325 215,320 235,290 230,250 245,215 270,210 285,232 335,222 340,250 330,265 355,292 400,280 450,285 490,310 520,322 560,400 545,405 525,440 520,500 505,560 508,600 512,640 -10,640"/>
<polygon fill="#b0e0e6" stroke="#b0e0e6" stroke-width="1.5" points="-10,305 40,315 90,335 150,365 190,380 230,392 275,375 310,360 330,368 350,405 380,440 400,475 435,490 400,505 350,520 300,535 282,575 290,620 300,640 -10,640"/>
<polygon fill="#7397ee" stroke="#7397ee" stroke-width="1.5" points="-10,385 50,372 95,368 120,378 140,400 165,410 190,430 200,470 205,510 200,545 175,575 140,590 120,620 115,650 -10,650"/>
<polygon fill="#b0e0e6" stroke="#b0e0e6" stroke-width="1.5" points="462,545 468,545 470,556 464,556"/>
</g></g>
<clipPath id="k1D"><rect x="143" y="248" width="147" height="154"/></clipPath>
<g clip-path="url(#k1D)"><g transform="translate(140,190) scale(0.25040)">
<rect x="-50" y="-50" width="800" height="1000" fill="#20b2aa"/>
<polygon fill="#bcee68" stroke="#bcee68" stroke-width="1.5" points="545,45 525,80 520,140 505,200 508,240 512,262 555,278 600,268 600,40"/>
<polygon fill="#b0e0e6" stroke="#b0e0e6" stroke-width="1.5" points="600,285 555,295 525,340 512,385 530,430 548,442 600,445"/>
<polygon fill="#b0e0e6" stroke="#b0e0e6" stroke-width="1.5" points="435,130 400,145 300,175 282,215 290,260 305,295 300,335 310,365 265,380 240,400 225,435 210,465 190,470 185,435 150,420 120,415 108,440 70,440 60,470 45,510 20,530 -10,540 -10,-10 435,-10"/>
<polygon fill="#7397ee" stroke="#7397ee" stroke-width="1.5" points="185,60 200,110 205,160 185,200 150,225 125,250 115,290 85,325 60,345 40,365 30,420 15,455 -10,450 -10,-10 185,-10"/>
<polygon fill="#b0e0e6" stroke="#b0e0e6" stroke-width="1.5" points="408,355 425,308 447,325 415,355"/>
<polygon fill="#b0e0e6" stroke="#b0e0e6" stroke-width="1.5" points="462,185 468,185 470,197 464,197"/>
<polygon fill="#bcee68" stroke="#bcee68" stroke-width="1.5" points="357,465 370,435 385,430 385,450 370,467"/>
<polygon fill="#bcee68" stroke="#bcee68" stroke-width="1.5" points="-10,552 40,540 75,520 100,530 150,525 200,530 240,530 290,520 340,508 385,510 430,492 445,500 468,540 440,580 420,625 410,660 410,860 -10,860"/>
<polygon fill="#96bb32" stroke="#96bb32" stroke-width="1.5" points="205,640 290,600 255,645 225,665"/>
<polygon fill="#96bb32" stroke="#96bb32" stroke-width="1.5" points="-10,568 40,568 75,585 110,592 128,610 128,650 120,685 140,725 160,772 150,810 -10,820"/>
<polygon fill="#f5e3ba" stroke="#f5e3ba" stroke-width="1.5" points="-10,612 40,610 55,625 50,660 70,680 75,700 40,720 -10,715"/>
</g></g>
<clipPath id="k1F"><rect x="0" y="190" width="79" height="106"/></clipPath>
<g clip-path="url(#k1F)"><g transform="translate(0,190) scale(0.12520)">
<rect x="-50" y="-50" width="800" height="1000" fill="#bcee68"/>
<polygon fill="#96bb32" stroke="#96bb32" stroke-width="1.5" points="100,-5 150,32 250,18 420,-5"/>
<polygon fill="#96bb32" stroke="#96bb32" stroke-width="1.5" points="30,700 100,705 170,725 240,760 290,810 300,860 30,860"/>
<polygon fill="#20b2aa" stroke="#20b2aa" stroke-width="1.5" points="640,75 580,95 500,75 455,100 420,170 390,210 350,245 270,215 230,250 200,310 150,400 100,480 95,560 100,620 160,650 210,690 260,685 310,705 350,745 345,790 370,860 640,860"/>
<polygon fill="#b0e0e6" stroke="#b0e0e6" stroke-width="1.5" points="640,290 580,300 540,320 510,370 520,420 490,445 420,440 350,420 290,400 230,415 190,450 180,500 200,540 250,580 310,620 370,650 400,700 420,760 440,800 500,820 560,815 640,800"/>
</g></g>
<clipPath id="k1E"><rect x="79" y="190" width="79" height="106"/></clipPath>
<g clip-path="url(#k1E)"><g transform="translate(79,190) scale(0.12520)">
<rect x="-50" y="-50" width="800" height="1000" fill="#7397ee"/>
<polygon fill="#b0e0e6" stroke="#b0e0e6" stroke-width="1.5" points="-10,-10 640,-10 640,25 600,28 520,50 430,65 385,110 350,125 290,95 230,108 150,118 110,140 85,190 75,240 90,290 70,330 80,380 75,450 80,500 75,560 100,560 150,535 200,540 250,548 300,572 335,610 325,680 295,760 320,790 380,765 440,740 455,780 450,860 -10,860"/>
<polygon fill="#b0e0e6" stroke="#b0e0e6" stroke-width="1.5" points="640,650 615,670 590,700 545,750 525,860 640,860"/>
<polygon fill="#20b2aa" stroke="#20b2aa" stroke-width="1.5" points="-10,170 30,130 80,85 115,60 180,35 250,15 310,-10 -10,-10"/>
<polygon fill="#bcee68" stroke="#bcee68" stroke-width="1.5" points="-10,60 60,30 130,-10 -10,-10"/>
<polygon fill="#20b2aa" stroke="#20b2aa" stroke-width="1.5" points="-10,830 20,790 70,730 120,670 170,640 215,630 245,650 240,700 215,760 200,810 205,860 -10,860"/>
</g></g>
<clipPath id="k1C1"><rect x="0" y="296" width="79" height="84"/></clipPath>
<g clip-path="url(#k1C1)"><g transform="translate(0,262) scale(0.12520)">
<rect x="-50" y="-50" width="800" height="1000" fill="#96bb32"/>
<polygon fill="#bcee68" stroke="#bcee68" stroke-width="1.5" points="-10,-10 95,-10 100,35 130,60 170,80 220,105 270,115 310,135 345,195 355,235 395,290 470,282 560,270 640,265 640,310 560,330 520,318 450,325 400,340 345,368 310,330 300,270 285,225 250,185 200,160 140,140 80,125 35,118 -10,118"/>
<polygon fill="#20b2aa" stroke="#20b2aa" stroke-width="1.5" points="95,-10 100,35 130,60 170,80 220,105 270,115 310,135 345,195 355,235 395,290 470,282 560,270 640,265 640,-10"/>
<polygon fill="#b0e0e6" stroke="#b0e0e6" stroke-width="1.5" points="340,-10 340,55 400,120 420,200 470,235 560,245 640,235 640,-10"/>
<polygon fill="#f5e3ba" stroke="#f5e3ba" stroke-width="1.5" points="60,260 85,268 150,275 210,295 245,330 262,380 255,430 235,485 180,480 130,400 75,270"/>
<polygon fill="#bcee68" stroke="#bcee68" stroke-width="1.5" points="245,560 325,503 300,570 240,578"/>
<polygon fill="#f5e3ba" stroke="#f5e3ba" stroke-width="1.5" points="345,685 375,600 400,520 410,440 470,420 520,400 560,395 640,385 640,860 345,860"/>
<polygon fill="#deb887" stroke="#deb887" stroke-width="1.5" points="640,425 612,438 600,480 612,560 590,612 540,640 495,660 520,760 498,805 525,860 640,860"/>
<polygon fill="#ffdd00" stroke="#ffdd00" stroke-width="1.5" points="640,720 600,735 620,820 640,835"/>
</g></g>
<clipPath id="k1C2"><rect x="79" y="296" width="79" height="106"/></clipPath>
<g clip-path="url(#k1C2)"><g transform="translate(79,296) scale(0.12520)">
<rect x="-50" y="-50" width="800" height="1000" fill="#f5e3ba"/>
<polygon fill="#96bb32" stroke="#96bb32" stroke-width="1.5" points="-10,75 100,75 180,85 225,105 245,140 240,185 215,300 270,325 330,320 360,300 420,330 470,345 540,325 590,295 640,290 640,440 600,430 595,400 580,372 540,368 480,375 430,365 380,345 330,340 260,340 215,310 205,260 215,200 205,150 170,120 100,108 -10,105"/>
<polygon fill="#bcee68" stroke="#bcee68" stroke-width="1.5" points="-10,5 60,18 150,35 220,50 270,70 295,100 290,150 292,200 310,240 350,265 420,295 470,300 520,285 570,265 640,240 640,290 590,295 540,325 470,345 420,330 360,300 330,320 270,325 215,300 240,185 245,140 225,105 180,85 100,75 -10,75"/>
<polygon fill="#20b2aa" stroke="#20b2aa" stroke-width="1.5" points="-10,5 60,18 150,35 220,50 270,70 295,100 290,150 292,200 310,240 350,265 420,295 470,300 520,285 570,265 640,240 640,-10 -10,-10"/>
<polygon fill="#b0e0e6" stroke="#b0e0e6" stroke-width="1.5" points="210,-10 250,18 320,22 360,40 365,90 360,160 370,210 430,240 470,245 520,225 560,180 590,130 610,80 615,30 640,25 640,-10"/>
<polygon fill="#7397ee" stroke="#7397ee" stroke-width="1.5" points="455,-10 460,40 490,65 515,45 520,-10"/>
<polygon fill="#96bb32" stroke="#96bb32" stroke-width="1.5" points="640,560 590,590 540,590 505,575 495,610 510,660 525,700 540,760 640,760"/>
<polygon fill="#96bb32" stroke="#96bb32" stroke-width="1.5" points="420,510 460,500 490,540 470,575 435,570 420,545"/>
<polygon fill="#deb887" stroke="#deb887" stroke-width="1.5" points="-10,125 60,130 130,125 175,150 185,200 165,250 155,300 165,350 215,372 280,370 330,352 370,365 400,410 425,455 400,500 390,560 380,600 400,650 410,700 420,760 -10,760"/>
<polygon fill="#ffdd00" stroke="#ffdd00" stroke-width="1.5" points="10,220 40,185 100,170 150,180 175,210 150,260 120,295 60,305 20,280 5,240"/>
<polygon fill="#ffa500" stroke="#ffa500" stroke-width="1.5" points="40,215 90,190 125,205 105,260 50,265"/>
<polygon fill="#ffdd00" stroke="#ffdd00" stroke-width="1.5" points="-10,445 100,425 200,415 310,400 350,430 365,470 355,560 330,640 300,760 -10,760"/>
<polygon fill="#ffa500" stroke="#ffa500" stroke-width="1.5" points="30,495 110,460 165,470 160,560 125,680 25,640"/>
<polygon fill="#ff4500" stroke="#ff4500" stroke-width="1.5" points="70,535 90,515 112,540 80,552"/>
</g></g>
<clipPath id="k1T"><rect x="79" y="100" width="79" height="90"/></clipPath>
<g clip-path="url(#k1T)"><g transform="translate(79,100) scale(0.12520)">
<rect x="-50" y="-50" width="800" height="1000" fill="#bcee68"/>
<polygon fill="#96bb32" stroke="#96bb32" stroke-width="1.5" points="-10,715 60,690 120,660 180,620 230,580 270,540 290,490 295,430 300,390 320,360 350,340 390,335 420,350 440,380 455,420 480,450 520,480 560,500 600,510 640,505 640,-10 -10,-10"/>
<polygon fill="#f5e3ba" stroke="#f5e3ba" stroke-width="1.5" points="-10,195 40,205 100,175 150,155 225,150 230,200 260,250 290,275 350,260 400,262 440,275 480,300 510,340 550,375 590,385 640,368 640,-10 -10,-10"/>
<polygon fill="#deb887" stroke="#deb887" stroke-width="1.5" points="378,70 400,110 430,145 470,170 530,165 590,150 640,150 640,-10 378,-10"/>
<polygon fill="#f5e3ba" stroke="#f5e3ba" stroke-width="1.5" points="-10,335 40,330 100,335 150,345 200,370 225,410 230,460 215,520 180,570 130,610 70,645 -10,672"/>
<polygon fill="#deb887" stroke="#deb887" stroke-width="1.5" points="-10,410 30,415 70,440 100,480 105,530 85,580 50,615 -10,635"/>
<polygon fill="#ffdd00" stroke="#ffdd00" stroke-width="1.5" points="-10,450 20,455 45,480 60,520 50,565 25,595 -10,605"/>
<polygon fill="#ffa500" stroke="#ffa500" stroke-width="1.5" points="-10,505 15,520 12,555 -10,570"/>
<polygon fill="#20b2aa" stroke="#20b2aa" stroke-width="1.5" points="-10,800 50,770 110,735 180,700 250,665 300,620 335,580 370,575 400,590 440,570 480,560 530,565 580,580 640,585 640,860 -10,860"/>
<polygon fill="#b0e0e6" stroke="#b0e0e6" stroke-width="1.5" points="40,860 90,800 150,765 220,740 290,720 340,690 380,665 430,660 470,640 520,630 570,640 640,655 640,860"/>
<polygon fill="#7397ee" stroke="#7397ee" stroke-width="1.5" points="135,860 200,830 270,815 330,830 400,800 450,775 520,760 580,745 640,735 640,860"/>
</g></g>
<clipPath id="k1U"><rect x="158" y="100" width="79" height="106"/></clipPath>
<g clip-path="url(#k1U)"><g transform="translate(158,100) scale(0.12520)">
<rect x="-50" y="-50" width="800" height="1000" fill="#bcee68"/>
<polygon fill="#96bb32" stroke="#96bb32" stroke-width="1.5" points="-10,500 30,480 70,440 100,420 140,400 180,395 230,400 280,385 330,350 380,320 420,290 450,265 490,248 490,-10 -10,-10"/>
<polygon fill="#f5e3ba" stroke="#f5e3ba" stroke-width="1.5" points="-10,330 50,320 100,325 140,320 150,290 180,265 200,245 235,225 260,200 300,180 318,180 330,228 370,220 430,212 430,-10 -10,-10"/>
<polygon fill="#deb887" stroke="#deb887" stroke-width="1.5" points="-10,135 40,125 90,105 135,88 135,-10 -10,-10"/>
<polygon fill="#20b2aa" stroke="#20b2aa" stroke-width="1.5" points="-10,580 60,578 120,590 170,620 230,650 280,640 310,610 325,570 320,520 305,475 340,450 375,425 400,430 425,460 470,440 520,425 545,440 560,470 580,490 540,510 515,545 540,570 570,585 610,570 640,560 640,860 -10,860"/>
<polygon fill="#b0e0e6" stroke="#b0e0e6" stroke-width="1.5" points="-10,640 50,655 100,680 150,710 200,740 260,770 320,790 380,770 440,745 490,725 520,745 540,790 570,830 590,860 -10,860"/>
<polygon fill="#7397ee" stroke="#7397ee" stroke-width="1.5" points="-10,740 40,735 80,745 110,770 130,810 150,860 -10,860"/>
</g></g>
<clipPath id="k1V"><rect x="237" y="140" width="58" height="106"/></clipPath>
<g clip-path="url(#k1V)"><g transform="translate(216,140) scale(0.12520)">
<rect x="-50" y="-50" width="800" height="1000" fill="#20b2aa"/>
<polygon fill="#bcee68" stroke="#bcee68" stroke-width="1.5" points="-10,125 40,108 80,125 95,150 110,175 75,180 55,200 60,230 100,270 180,235 290,240 330,265 400,310 400,-10 -10,-10"/>
<polygon fill="#b0e0e6" stroke="#b0e0e6" stroke-width="1.5" points="-10,400 40,405 70,445 100,495 165,555 190,620 270,655 220,690 150,715 80,740 -10,750"/>
<polygon fill="#bcee68" stroke="#bcee68" stroke-width="1.5" points="485,485 455,530 435,580 430,640 440,700 420,760 400,810 400,860 600,860 600,480"/>
<polygon fill="#b0e0e6" stroke="#b0e0e6" stroke-width="1.5" points="318,775 328,772 332,795 322,797"/>
</g></g>
<clipPath id="k1X"><rect x="158" y="296" width="79" height="106"/></clipPath>
<g clip-path="url(#k1X)"><g transform="translate(158,296) scale(0.12520)">
<rect x="-50" y="-50" width="800" height="1000" fill="#bcee68"/>
<polygon fill="#20b2aa" stroke="#20b2aa" stroke-width="1.5" points="-10,225 30,230 80,225 130,205 180,195 230,200 270,215 310,225 360,215 420,200 480,185 540,170 600,175 640,180 640,-10 -10,-10"/>
<polygon fill="#b0e0e6" stroke="#b0e0e6" stroke-width="1.5" points="-10,-10 -10,30 40,45 70,60 85,20 90,-10"/>
<polygon fill="#b0e0e6" stroke="#b0e0e6" stroke-width="1.5" points="215,-10 230,40 240,75 270,90 300,80 290,50 300,20 310,-10"/>
<polygon fill="#b0e0e6" stroke="#b0e0e6" stroke-width="1.5" points="225,95 285,92 285,105 230,108"/>
<polygon fill="#bcee68" stroke="#bcee68" stroke-width="1.5" points="570,85 590,40 610,15 640,8 625,40 600,70"/>
<polygon fill="#96bb32" stroke="#96bb32" stroke-width="1.5" points="270,445 330,410 390,375 440,350 400,395 370,440 345,480 290,485"/>
<polygon fill="#96bb32" stroke="#96bb32" stroke-width="1.5" points="-10,330 40,325 80,345 110,380 105,420 130,450 135,490 120,540 100,570 115,610 150,650 175,690 182,730 -10,770"/>
<polygon fill="#f5e3ba" stroke="#f5e3ba" stroke-width="1.5" points="-10,430 15,435 25,470 10,500 -10,505"/>
</g></g>
<clipPath id="k1Y"><rect x="237" y="246" width="58" height="90"/></clipPath>
<g clip-path="url(#k1Y)"><g transform="translate(216,230) scale(0.12520)">
<rect x="-50" y="-50" width="800" height="1000" fill="#20b2aa"/>
<polygon fill="#bcee68" stroke="#bcee68" stroke-width="1.5" points="430,-10 410,40 400,100 405,170 420,210 460,225 500,235 520,210 600,175 600,-10"/>
<polygon fill="#b0e0e6" stroke="#b0e0e6" stroke-width="1.5" points="600,260 535,265 500,285 455,305 440,350 420,400 418,450 435,500 468,550 600,550"/>
<polygon fill="#b0e0e6" stroke="#b0e0e6" stroke-width="1.5" points="208,398 215,320 240,295 290,325 250,370"/>
<polygon fill="#b0e0e6" stroke="#b0e0e6" stroke-width="1.5" points="318,55 330,52 334,75 322,77"/>
<polygon fill="#bcee68" stroke="#bcee68" stroke-width="1.5" points="105,618 120,570 140,540 160,538 168,565 150,595"/>
<polygon fill="#bcee68" stroke="#bcee68" stroke-width="1.5" points="-10,720 40,705 90,695 150,700 200,680 270,665 300,700 328,740 310,790 285,830 270,860 -10,860"/>
</g></g>
<clipPath id="k1Z"><rect x="158" y="249" width="64" height="47"/></clipPath>
<g clip-path="url(#k1Z)"><g transform="translate(143,230) scale(0.12520)">
<rect x="-50" y="-50" width="800" height="1000" fill="#b0e0e6"/>
<polygon fill="#7397ee" stroke="#7397ee" stroke-width="1.5" points="390,-10 375,40 350,85 300,115 250,150 215,195 200,240 160,270 120,320 95,370 60,400 35,430 20,480 10,530 -10,565 -10,-10"/>
<polygon fill="#20b2aa" stroke="#20b2aa" stroke-width="1.5" points="640,30 590,35 555,65 540,100 545,150 560,200 580,250 600,300 595,340 600,400 570,420 520,430 490,470 470,510 450,560 420,590 400,610 360,610 350,570 330,540 270,530 215,510 200,540 195,580 150,575 105,560 90,600 60,660 30,710 -10,755 -10,860 640,860"/>
<polygon fill="#bcee68" stroke="#bcee68" stroke-width="1.5" points="-10,805 40,775 80,740 110,715 150,740 200,755 260,735 310,715 360,715 400,740 450,750 500,745 560,730 640,700 640,860 -10,860"/>
</g></g>

<use href="#coast" transform="translate(0,0)"/></g>
<circle cx="143.0" cy="248.9" r="141.5" fill="none" stroke="#000" stroke-width="1"/>
<!-- MAP2 -->
<g id="map2" clip-path="url(#c2)">
<clipPath id="k2A"><rect x="290" y="100" width="145" height="149"/></clipPath>
<g clip-path="url(#k2A)"><g transform="translate(292,100) scale(0.25040)">
<rect x="-50" y="-50" width="800" height="1000" fill="#b0e0e6"/>
<polygon fill="#20b2aa" stroke="#20b2aa" stroke-width="1.5" points="-10,385 48,385 100,392 220,390 310,375 370,350 415,315 440,280 450,240 460,210 490,200 530,205 570,210 600,205 640,195 640,-10 -10,-10"/>
<polygon fill="#bcee68" stroke="#bcee68" stroke-width="1.5" points="-10,375 52,375 120,378 220,372 300,355 360,328 400,295 415,255 420,215 440,180 480,165 520,170 570,175 640,165 640,-10 -10,-10"/>
<polygon fill="#96bb32" stroke="#96bb32" stroke-width="1.5" points="-10,355 62,355 120,358 220,352 290,338 340,315 375,285 390,250 395,210 400,170 430,140 465,125 510,130 560,135 600,120 640,120 640,-10 -10,-10"/>
<polygon fill="#f5e3ba" stroke="#f5e3ba" stroke-width="1.5" points="-10,335 75,335 120,338 200,335 260,325 300,310 340,290 360,260 365,220 360,180 370,140 390,110 430,85 460,75 500,88 540,85 600,65 640,62 640,-10 -10,-10"/>
<polygon fill="#deb887" stroke="#deb887" stroke-width="1.5" points="100,260 175,195 230,195 290,205 325,220 340,245 335,270 310,295 270,310 200,320 130,318 80,312 70,290"/>
<polygon fill="#ffdd00" stroke="#ffdd00" stroke-width="1.5" points="150,225 200,210 260,212 305,225 325,245 315,275 280,295 200,308 130,305 95,290 110,260"/>
<polygon fill="#ffa500" stroke="#ffa500" stroke-width="1.5" points="125,255 160,232 220,225 280,230 305,250 295,275 250,290 180,297 130,290 115,275"/>
<polygon fill="#ff4500" stroke="#ff4500" stroke-width="1.5" points="135,268 165,243 220,235 270,240 278,262 260,282 190,290 145,283"/>
<polygon fill="#7397ee" stroke="#7397ee" stroke-width="1.5" points="640,330 580,330 540,340 500,360 470,385 430,400 390,410 360,430 340,460 300,485 280,510 265,545 230,600 220,640 640,640"/>
<polygon fill="#4169e1" stroke="#4169e1" stroke-width="1.5" points="640,378 590,385 540,400 500,425 470,445 420,450 405,470 400,500 380,510 370,540 375,580 385,610 385,640 640,640"/>
</g></g>
<clipPath id="k2B"><rect x="435" y="100" width="147" height="149"/></clipPath>
<g clip-path="url(#k2B)"><g transform="translate(432,100) scale(0.25040)">
<rect x="-50" y="-50" width="800" height="1000" fill="#20b2aa"/>
<polygon fill="#bcee68" stroke="#bcee68" stroke-width="1.5" points="-10,175 40,170 80,180 120,170 150,165 200,160 230,155 270,135 320,125 345,130 345,-10 -10,-10"/>
<polygon fill="#bcee68" stroke="#bcee68" stroke-width="1.5" points="352,148 365,190 395,215 430,222 470,235 420,170"/>
<polygon fill="#96bb32" stroke="#96bb32" stroke-width="1.5" points="-10,140 50,135 100,125 140,110 180,100 220,95 260,98 285,95 285,-10 -10,-10"/>
<polygon fill="#f5e3ba" stroke="#f5e3ba" stroke-width="1.5" points="-10,68 60,60 120,55 170,62 200,68 225,70 225,-10 -10,-10"/>
<polygon fill="#b0e0e6" stroke="#b0e0e6" stroke-width="1.5" points="-10,225 40,228 90,235 140,255 180,275 230,285 280,270 315,262 340,290 370,320 400,345 425,355 420,385 430,420 445,450 470,490 455,530 430,570 395,590 385,620 400,650 -10,650"/>
<polygon fill="#b0e0e6" stroke="#b0e0e6" stroke-width="1.5" points="440,305 458,285 480,290 600,400 548,425 520,395 500,365 480,340 450,330"/>
<polygon fill="#7397ee" stroke="#7397ee" stroke-width="1.5" points="-10,318 40,312 80,315 120,330 160,355 200,385 240,410 262,440 265,480 245,520 235,560 232,600 220,640 -10,640"/>
<polygon fill="#4169e1" stroke="#4169e1" stroke-width="1.5" points="-10,390 40,380 80,378 110,390 140,410 160,440 162,480 145,510 120,530 90,545 60,580 55,620 50,640 -10,640"/>
<polygon fill="#20b2aa" stroke="#20b2aa" stroke-width="1.5" points="340,575 350,573 352,583 343,585"/>
</g></g>
<clipPath id="k2D"><rect x="435" y="249" width="147" height="153"/></clipPath>
<g clip-path="url(#k2D)"><g transform="translate(432,190) scale(0.25040)">
<rect x="-50" y="-50" width="800" height="1000" fill="#20b2aa"/>
<polygon fill="#b0e0e6" stroke="#b0e0e6" stroke-width="1.5" points="430,-10 420,40 445,90 470,130 455,170 430,205 395,235 385,260 400,290 420,325 380,305 340,325 295,355 265,390 245,430 235,455 200,462 165,445 165,400 150,365 130,352 105,370 95,400 85,420 60,418 35,410 -10,400 -10,-10"/>
<polygon fill="#b0e0e6" stroke="#b0e0e6" stroke-width="1.5" points="600,285 575,290 540,305 505,330 470,355 465,395 440,415 445,445 460,460 500,450 505,475 490,510 470,545 440,580 400,605 388,625 390,660 600,660"/>
<polygon fill="#b0e0e6" stroke="#b0e0e6" stroke-width="1.5" points="495,-10 520,35 548,65 600,65 600,-10"/>
<polygon fill="#7397ee" stroke="#7397ee" stroke-width="1.5" points="265,100 262,140 240,175 235,215 232,255 215,280 185,280 150,265 125,275 100,300 95,345 60,345 25,375 -10,390 -10,-10 265,-10"/>
<polygon fill="#4169e1" stroke="#4169e1" stroke-width="1.5" points="160,80 162,120 145,150 120,170 90,185 65,215 55,255 30,285 -10,300 -10,-10 160,-10"/>
<polygon fill="#bcee68" stroke="#bcee68" stroke-width="1.5" points="-10,435 30,425 50,430 75,445 78,480 75,520 85,560 130,545 180,540 220,550 250,530 290,515 330,520 365,525 355,560 320,600 300,640 295,680 260,710 220,730 185,740 175,775 165,860 -10,860"/>
<polygon fill="#96bb32" stroke="#96bb32" stroke-width="1.5" points="-10,505 20,500 40,490 50,520 45,560 60,590 95,610 110,640 115,680 105,720 110,760 100,810 -10,820"/>
<polygon fill="#f5e3ba" stroke="#f5e3ba" stroke-width="1.5" points="-10,550 20,555 35,590 45,640 60,670 55,695 30,705 -10,690"/>
<polygon fill="#deb887" stroke="#deb887" stroke-width="1.5" points="-10,590 15,600 25,640 15,665 -10,660"/>
<polygon fill="#20b2aa" stroke="#20b2aa" stroke-width="1.5" points="340,215 350,213 352,223 343,225"/>
</g></g>
<clipPath id="k2J"><rect x="290" y="190" width="81" height="106"/></clipPath>
<g clip-path="url(#k2J)"><g transform="translate(292,190) scale(0.12520)">
<rect x="-50" y="-50" width="800" height="1000" fill="#b0e0e6"/>
<polygon fill="#20b2aa" stroke="#20b2aa" stroke-width="1.5" points="-10,48 95,45 200,40 330,35 460,25 560,30 640,15 640,-10 -10,-10"/>
<polygon fill="#7397ee" stroke="#7397ee" stroke-width="1.5" points="15,255 50,258 35,285 15,290"/>
<polygon fill="#20b2aa" stroke="#20b2aa" stroke-width="1.5" points="-10,488 60,495 135,515 140,560 135,600 150,640 200,680 260,720 300,760 330,800 345,860 -10,860"/>
<polygon fill="#bcee68" stroke="#bcee68" stroke-width="1.5" points="20,730 100,745 160,770 200,800 232,860 20,860"/>
<polygon fill="#7397ee" stroke="#7397ee" stroke-width="1.5" points="640,235 600,258 578,310 560,350 545,400 510,440 470,480 430,500 400,530 385,570 390,620 420,660 450,700 480,740 500,770 560,780 640,790"/>
<polygon fill="#4169e1" stroke="#4169e1" stroke-width="1.5" points="620,620 640,615 640,665 620,660"/>
</g></g>
<clipPath id="k2I"><rect x="371" y="190" width="79" height="106"/></clipPath>
<g clip-path="url(#k2I)"><g transform="translate(371,190) scale(0.12520)">
<rect x="-50" y="-50" width="800" height="1000" fill="#7397ee"/>
<polygon fill="#b0e0e6" stroke="#b0e0e6" stroke-width="1.5" points="-10,230 30,170 70,120 110,85 160,75 230,60 280,30 320,-10 -10,-10"/>
<polygon fill="#20b2aa" stroke="#20b2aa" stroke-width="1.5" points="-10,18 25,-10 -10,-10"/>
<polygon fill="#4169e1" stroke="#4169e1" stroke-width="1.5" points="640,40 590,55 540,80 480,90 420,100 370,120 330,150 290,175 230,185 200,200 190,240 175,265 140,275 110,300 110,340 120,380 150,420 200,440 240,460 262,500 300,540 330,575 300,590 265,620 240,700 215,770 210,800 240,825 290,812 340,793 400,770 430,722 450,690 480,650 520,600 560,570 600,530 610,500 640,465"/>
<polygon fill="#b0e0e6" stroke="#b0e0e6" stroke-width="1.5" points="-10,775 40,730 100,680 150,660 165,700 160,760 150,800 155,860 -10,860"/>
<polygon fill="#b0e0e6" stroke="#b0e0e6" stroke-width="1.5" points="425,860 435,815 470,790 515,755 535,725 560,700 600,690 640,680 640,860"/>
<polygon fill="#20b2aa" stroke="#20b2aa" stroke-width="1.5" points="500,860 505,830 540,793 580,812 615,860"/>
<polygon fill="#4169e1" stroke="#4169e1" stroke-width="1.5" points="-10,615 35,598 50,625 15,660 -10,665"/>
</g></g>
<clipPath id="k2G"><rect x="290" y="262" width="81" height="120"/></clipPath>
<g clip-path="url(#k2G)"><g transform="translate(292,262) scale(0.12520)">
<rect x="-50" y="-50" width="800" height="1000" fill="#bcee68"/>
<polygon fill="#96bb32" stroke="#96bb32" stroke-width="1.5" points="120,375 170,388 215,420 240,460 235,505 195,525 100,400"/>
<polygon fill="#96bb32" stroke="#96bb32" stroke-width="1.5" points="200,520 250,530 265,570 295,600 340,585 390,555 410,510 440,485 480,490 510,520 550,540 590,520 640,500 640,900 200,900"/>
<polygon fill="#96bb32" stroke="#96bb32" stroke-width="1.5" points="605,430 640,425 640,490 612,480"/>
<polygon fill="#f5e3ba" stroke="#f5e3ba" stroke-width="1.5" points="365,720 400,690 430,688 470,730 510,750 560,735 600,720 640,700 640,900 365,900"/>
<polygon fill="#20b2aa" stroke="#20b2aa" stroke-width="1.5" points="-10,160 35,160 60,165 120,185 180,200 220,240 250,290 290,345 310,390 335,435 400,435 470,420 530,400 580,385 640,380 640,-10 -10,-10"/>
<polygon fill="#b0e0e6" stroke="#b0e0e6" stroke-width="1.5" points="135,-10 145,50 200,100 260,150 300,200 330,260 380,320 435,365 500,340 570,310 640,315 640,-10"/>
<polygon fill="#7397ee" stroke="#7397ee" stroke-width="1.5" points="385,-10 400,50 430,90 460,140 490,190 530,210 600,215 640,210 640,-10"/>
<polygon fill="#4169e1" stroke="#4169e1" stroke-width="1.5" points="625,60 640,55 640,90 625,85"/>
</g></g>
<clipPath id="k2H"><rect x="371" y="296" width="79" height="106"/></clipPath>
<g clip-path="url(#k2H)"><g transform="translate(371,296) scale(0.12520)">
<rect x="-50" y="-50" width="800" height="1000" fill="#f5e3ba"/>
<polygon fill="#96bb32" stroke="#96bb32" stroke-width="1.5" points="-10,165 40,150 80,165 150,150 190,160 200,200 210,260 230,300 270,325 340,320 400,310 440,300 470,280 510,255 545,265 560,300 575,340 590,400 580,430 600,500 640,520 640,-10 -10,-10"/>
<polygon fill="#96bb32" stroke="#96bb32" stroke-width="1.5" points="405,505 440,495 465,515 480,560 520,585 560,600 600,560 640,535 640,770 395,770 400,690 410,620 400,560"/>
<polygon fill="#bcee68" stroke="#bcee68" stroke-width="1.5" points="495,612 520,615 525,640 505,645"/>
<polygon fill="#bcee68" stroke="#bcee68" stroke-width="1.5" points="545,690 575,670 590,690 560,722 540,712"/>
<polygon fill="#bcee68" stroke="#bcee68" stroke-width="1.5" points="-10,135 60,128 130,125 200,120 235,135 232,180 222,230 235,285 265,310 300,315 345,300 400,285 440,290 475,262 520,215 550,160 567,133 590,190 585,260 607,320 640,335 640,-10 -10,-10"/>
<polygon fill="#20b2aa" stroke="#20b2aa" stroke-width="1.5" points="-10,95 100,100 200,95 260,90 300,95 330,120 385,120 380,160 365,200 350,240 358,252 420,240 450,200 480,150 520,100 545,50 560,-10 -10,-10"/>
<polygon fill="#20b2aa" stroke="#20b2aa" stroke-width="1.5" points="580,-10 640,40 640,-10"/>
<polygon fill="#20b2aa" stroke="#20b2aa" stroke-width="1.5" points="245,240 290,238 330,250 325,272 280,262 250,258"/>
<polygon fill="#b0e0e6" stroke="#b0e0e6" stroke-width="1.5" points="-10,35 100,45 200,55 270,50 330,40 360,50 400,75 440,75 490,50 530,20 550,-10 -10,-10"/>
<polygon fill="#7397ee" stroke="#7397ee" stroke-width="1.5" points="175,-10 220,15 290,5 300,-10"/>
<polygon fill="#deb887" stroke="#deb887" stroke-width="1.5" points="35,215 60,190 110,178 150,180 170,205 150,245 110,268 50,262 35,240"/>
<polygon fill="#96bb32" stroke="#96bb32" stroke-width="1.5" points="-10,270 30,290 80,340 50,380 -10,410"/>
<polygon fill="#deb887" stroke="#deb887" stroke-width="1.5" points="145,378 200,372 270,360 310,345 340,350 400,345 440,340 490,330 520,335 545,385 550,440 530,470 470,465 420,480 390,520 370,560 350,590 320,640 300,700 290,725 210,715 190,680 175,600 160,530 145,450"/>
<polygon fill="#ffdd00" stroke="#ffdd00" stroke-width="1.5" points="185,480 220,450 260,420 300,380 330,358 370,360 410,378 420,400 400,450 380,500 350,560 310,620 270,660 245,680 215,650 195,560"/>
<polygon fill="#ffa500" stroke="#ffa500" stroke-width="1.5" points="218,490 260,455 310,410 350,392 375,440 340,520 300,580 260,612 232,590"/>
<polygon fill="#ff4500" stroke="#ff4500" stroke-width="1.5" points="276,512 284,510 286,518 278,520"/>
<polygon fill="#96bb32" stroke="#96bb32" stroke-width="1.5" points="85,625 145,635 130,668"/>
</g></g>
<clipPath id="k2T"><rect x="371" y="100" width="79" height="90"/></clipPath>
<g clip-path="url(#k2T)"><g transform="translate(371,100) scale(0.12520)">
<rect x="-50" y="-50" width="800" height="1000" fill="#b0e0e6"/>
<polygon fill="#20b2aa" stroke="#20b2aa" stroke-width="1.5" points="-10,735 60,715 130,690 200,650 250,610 285,575 300,540 330,510 365,495 385,450 420,435 460,440 490,450 520,430 560,415 600,395 640,382 640,-10 -10,-10"/>
<polygon fill="#bcee68" stroke="#bcee68" stroke-width="1.5" points="-10,690 60,670 120,640 180,590 220,530 245,470 260,420 280,380 320,345 370,330 430,335 490,355 540,365 590,355 640,340 640,-10 -10,-10"/>
<polygon fill="#96bb32" stroke="#96bb32" stroke-width="1.5" points="-10,645 50,625 100,595 140,550 170,490 180,430 175,380 185,330 210,290 260,265 320,258 380,270 440,285 500,285 560,270 640,255 640,-10 -10,-10"/>
<polygon fill="#f5e3ba" stroke="#f5e3ba" stroke-width="1.5" points="-10,628 30,608 62,565 82,500 90,440 92,380 95,310 110,260 140,210 190,170 250,140 300,135 350,155 400,170 450,165 500,150 560,130 640,120 640,-10 -10,-10"/>
<polygon fill="#deb887" stroke="#deb887" stroke-width="1.5" points="-10,410 25,420 45,460 50,510 40,560 20,585 -10,595"/>
<polygon fill="#ffdd00" stroke="#ffdd00" stroke-width="1.5" points="-10,480 10,500 12,530 -10,550"/>
<polygon fill="#7397ee" stroke="#7397ee" stroke-width="1.5" points="95,860 150,800 220,770 290,740 350,710 400,680 450,655 500,640 560,625 600,615 640,600 640,860"/>
<polygon fill="#4169e1" stroke="#4169e1" stroke-width="1.5" points="370,860 420,815 480,790 540,775 590,765 640,745 640,860"/>
</g></g>
<clipPath id="k2U"><rect x="450" y="100" width="79" height="106"/></clipPath>
<g clip-path="url(#k2U)"><g transform="translate(450,100) scale(0.12520)">
<rect x="-50" y="-50" width="800" height="1000" fill="#20b2aa"/>
<polygon fill="#bcee68" stroke="#bcee68" stroke-width="1.5" points="-10,365 40,358 80,345 120,320 170,310 215,315 250,335 290,340 330,320 380,290 430,265 495,255 495,-10 -10,-10"/>
<polygon fill="#96bb32" stroke="#96bb32" stroke-width="1.5" points="-10,260 50,262 100,250 150,225 200,205 250,195 300,190 340,208 380,212 415,205 415,-10 -10,-10"/>
<polygon fill="#f5e3ba" stroke="#f5e3ba" stroke-width="1.5" points="-10,130 50,140 100,150 140,155 180,140 225,120 225,-10 -10,-10"/>
<polygon fill="#bcee68" stroke="#bcee68" stroke-width="1.5" points="540,280 560,320 575,370 590,410 640,445 640,340"/>
<polygon fill="#b0e0e6" stroke="#b0e0e6" stroke-width="1.5" points="-10,455 50,465 100,480 150,495 200,525 250,560 300,578 340,575 400,550 450,530 485,525 500,560 530,600 570,640 610,675 640,690 640,860 -10,860"/>
<polygon fill="#7397ee" stroke="#7397ee" stroke-width="1.5" points="-10,620 40,625 90,650 140,690 190,730 240,770 290,810 330,860 -10,860"/>
<polygon fill="#4169e1" stroke="#4169e1" stroke-width="1.5" points="-10,755 40,770 80,800 110,860 -10,860"/>
</g></g>
<clipPath id="k2V"><rect x="529" y="140" width="58" height="106"/></clipPath>
<g clip-path="url(#k2V)"><g transform="translate(508,140) scale(0.12520)">
<rect x="-50" y="-50" width="800" height="1000" fill="#20b2aa"/>
<polygon fill="#bcee68" stroke="#bcee68" stroke-width="1.5" points="100,-10 110,40 130,80 160,110 200,125 260,128 260,-10"/>
<polygon fill="#b0e0e6" stroke="#b0e0e6" stroke-width="1.5" points="-10,195 20,200 40,240 70,280 110,320 150,355 190,378 225,385 245,420 235,470 255,520 260,570 295,610 330,650 335,690 300,730 270,780 250,830 240,860 -10,860"/>
<polygon fill="#b0e0e6" stroke="#b0e0e6" stroke-width="1.5" points="275,290 300,260 340,248 600,500 480,530 450,510 410,465 385,410 365,365 320,350 290,335"/>
</g></g>
<clipPath id="k2W"><rect x="290" y="120" width="81" height="106"/></clipPath>
<g clip-path="url(#k2W)"><g transform="translate(292,120) scale(0.12520)">
<rect x="-50" y="-50" width="800" height="1000" fill="#f5e3ba"/>
<polygon fill="#deb887" stroke="#deb887" stroke-width="1.5" points="350,225 400,215 460,215 520,230 580,240 640,245 640,440 580,460 500,478 400,488 300,485 220,470 170,450 100,480 250,250"/>
<polygon fill="#ffdd00" stroke="#ffdd00" stroke-width="1.5" points="310,270 370,255 440,255 520,268 590,285 640,300 640,415 580,440 510,460 420,470 330,468 250,450 195,425 150,430 270,280"/>
<polygon fill="#ffa500" stroke="#ffa500" stroke-width="1.5" points="265,330 300,300 360,285 440,285 520,295 580,310 600,340 590,380 560,410 500,435 420,445 340,445 280,430 235,400 232,380"/>
<polygon fill="#ff4500" stroke="#ff4500" stroke-width="1.5" points="270,345 320,315 400,305 480,310 555,325 545,370 520,400 460,425 380,430 320,425 280,395 268,370"/>
<polygon fill="#96bb32" stroke="#96bb32" stroke-width="1.5" points="-10,480 150,490 220,505 320,515 420,512 520,500 600,480 640,470 640,860 -10,860"/>
<polygon fill="#bcee68" stroke="#bcee68" stroke-width="1.5" points="-10,510 135,515 220,525 320,530 420,528 520,518 600,500 640,490 640,860 -10,860"/>
<polygon fill="#20b2aa" stroke="#20b2aa" stroke-width="1.5" points="-10,540 120,545 200,555 320,555 420,550 520,545 600,535 640,530 640,860 -10,860"/>
<polygon fill="#b0e0e6" stroke="#b0e0e6" stroke-width="1.5" points="-10,610 95,605 200,600 320,595 420,590 520,590 600,590 640,585 640,860 -10,860"/>
<polygon fill="#7397ee" stroke="#7397ee" stroke-width="1.5" points="10,820 50,815 40,860 10,860"/>
<polygon fill="#7397ee" stroke="#7397ee" stroke-width="1.5" points="590,810 640,790 640,860 600,860"/>
</g></g>
<clipPath id="k2X"><rect x="450" y="296" width="79" height="106"/></clipPath>
<g clip-path="url(#k2X)"><g transform="translate(450,296) scale(0.12520)">
<rect x="-50" y="-50" width="800" height="1000" fill="#20b2aa"/>
<polygon fill="#b0e0e6" stroke="#b0e0e6" stroke-width="1.5" points="45,130 60,100 100,70 150,45 185,20 195,-10 385,-10 360,30 330,70 310,100 280,120 240,130 200,135 150,130 110,135 80,160 60,190 42,175"/>
<polygon fill="#bcee68" stroke="#bcee68" stroke-width="1.5" points="-10,300 40,285 90,260 130,240 170,235 210,255 250,275 290,255 340,230 400,205 430,185 500,190 560,195 590,205 575,250 540,300 490,370 460,430 445,500 440,550 400,590 350,605 290,615 230,625 210,660 200,700 190,860 -10,860"/>
<polygon fill="#96bb32" stroke="#96bb32" stroke-width="1.5" points="-10,355 30,370 60,400 80,440 85,490 100,540 90,590 75,640 60,690 72,760 -10,770"/>
</g></g>
<clipPath id="k2Y"><rect x="508" y="246" width="79" height="90"/></clipPath>
<g clip-path="url(#k2Y)"><g transform="translate(508,230) scale(0.12520)">
<rect x="-50" y="-50" width="800" height="1000" fill="#20b2aa"/>
<polygon fill="#b0e0e6" stroke="#b0e0e6" stroke-width="1.5" points="305,-10 280,30 260,80 240,115 200,135 170,155 175,200 195,240 235,275 235,315 220,340 190,315 155,290 125,305 95,330 80,370 55,410 25,440 -10,458 -10,-10"/>
<polygon fill="#20b2aa" stroke="#20b2aa" stroke-width="1.5" points="75,115 95,108 100,125 85,135"/>
<polygon fill="#b0e0e6" stroke="#b0e0e6" stroke-width="1.5" points="600,260 530,265 490,285 440,315 390,350 340,380 330,440 310,480 275,505 270,540 285,580 300,605 350,600 400,580 395,620 360,690 320,770 285,830 600,830"/>
<polygon fill="#bcee68" stroke="#bcee68" stroke-width="1.5" points="-10,720 60,718 120,720 128,740 110,790 80,830 60,860 -10,860"/>
</g></g>

<use href="#coast" transform="translate(291.3,0)"/></g>
<circle cx="434.5" cy="248.9" r="141.5" fill="none" stroke="#000" stroke-width="1"/>
<!-- MAP3 -->
<g id="map3" clip-path="url(#c3)">
<clipPath id="k3A"><rect x="146" y="558" width="143" height="149"/></clipPath>
<g clip-path="url(#k3A)"><g transform="translate(146,558) scale(0.25040)">
<rect x="-50" y="-50" width="800" height="1000" fill="#ffdd00"/>
<polygon fill="#deb887" stroke="#deb887" stroke-width="1.5" points="-10,-10 540,-10 540,40 535,100 515,145 480,120 445,125 420,160 400,185 370,215 355,250 300,270 270,300 265,330 240,345 200,335 150,325 90,310 -10,300"/>
<polygon fill="#f5e3ba" stroke="#f5e3ba" stroke-width="1.5" points="95,285 150,280 200,282 240,290 235,320 180,315 110,300"/>
<polygon fill="#96bb32" stroke="#96bb32" stroke-width="1.5" points="-10,-10 445,-10 440,48 435,72 410,100 380,130 350,165 330,195 300,215 230,237 170,252 120,250 -10,260"/>
<polygon fill="#bcee68" stroke="#bcee68" stroke-width="1.5" points="125,245 150,230 200,218 240,205 275,192 278,128 270,-10 -10,-10 -10,245"/>
<polygon fill="#20b2aa" stroke="#20b2aa" stroke-width="1.5" points="208,153 222,160 216,168 205,162"/>
<polygon fill="#f5e3ba" stroke="#f5e3ba" stroke-width="1.5" points="438,95 455,70 478,55 472,85 450,108"/>
<polygon fill="#ffa500" stroke="#ffa500" stroke-width="1.5" points="555,190 580,175 640,170 640,270 600,270 570,250 552,220"/>
<polygon fill="#ffa500" stroke="#ffa500" stroke-width="1.5" points="10,500 25,440 45,395 62,383 82,400 90,430 72,470 50,502 15,512 -10,512"/>
<polygon fill="#deb887" stroke="#deb887" stroke-width="1.5" points="640,330 600,325 560,335 520,345 480,355 440,360 400,375 370,390 350,410 320,440 295,465 280,480 230,478 170,485 130,495 110,520 100,545 70,570 45,600 25,640 -10,650 -10,900 640,900"/>
<polygon fill="#f5e3ba" stroke="#f5e3ba" stroke-width="1.5" points="640,365 560,370 520,385 500,415 475,410 455,385 430,385 400,400 375,425 355,450 340,480 330,520 350,560 380,600 400,640 640,640"/>
</g></g>
<clipPath id="k3B"><rect x="289" y="558" width="151" height="188"/></clipPath>
<g clip-path="url(#k3B)"><g transform="translate(286,558) scale(0.25040)">
<rect x="-50" y="-50" width="800" height="1000" fill="#f5e3ba"/>
<polygon fill="#deb887" stroke="#deb887" stroke-width="1.5" points="-10,-10 640,-10 640,580 575,570 545,545 525,500 515,440 520,400 490,360 450,330 415,310 410,370 400,410 350,430 310,440 290,425 250,430 210,420 170,395 130,360 90,340 40,345 -10,350"/>
<polygon fill="#ffdd00" stroke="#ffdd00" stroke-width="1.5" points="-10,-10 340,-10 340,130 305,125 300,150 315,185 300,200 260,195 220,205 205,225 225,260 250,300 245,340 225,378 200,380 150,360 110,340 70,325 40,320 -10,315"/>
<polygon fill="#deb887" stroke="#deb887" stroke-width="1.5" points="85,45 130,40 190,60 215,75 170,85 120,85 95,70"/>
<polygon fill="#f5e3ba" stroke="#f5e3ba" stroke-width="1.5" points="130,50 160,48 180,65 150,75"/>
<polygon fill="#ffa500" stroke="#ffa500" stroke-width="1.5" points="-10,175 30,170 70,175 95,210 90,250 60,270 20,265 -10,255"/>
<polygon fill="#f5e3ba" stroke="#f5e3ba" stroke-width="1.5" points="340,170 365,150 430,210 440,225 410,235 380,225 360,210 340,190"/>
<polygon fill="#f5e3ba" stroke="#f5e3ba" stroke-width="1.5" points="375,250 395,238 412,255 405,280 385,280"/>
<polygon fill="#ffdd00" stroke="#ffdd00" stroke-width="1.5" points="455,262 475,295 500,318 540,340 500,270"/>
<polygon fill="#ffdd00" stroke="#ffdd00" stroke-width="1.5" points="530,380 548,445 560,492 620,492 580,400"/>
<polygon fill="#deb887" stroke="#deb887" stroke-width="1.5" points="-10,490 30,485 60,495 95,500 95,520 70,530 40,500 10,520 -10,530"/>
<polygon fill="#deb887" stroke="#deb887" stroke-width="1.5" points="320,640 350,620 385,600 390,625 375,650 340,668 322,655"/>
<polygon fill="#deb887" stroke="#deb887" stroke-width="1.5" points="535,615 550,605 555,630 545,640"/>
<polygon fill="#deb887" stroke="#deb887" stroke-width="1.5" points="440,860 445,800 470,740 490,705 505,720 495,780 475,860"/>
<polygon fill="#96bb32" stroke="#96bb32" stroke-width="1.5" points="455,530 470,520 485,560 490,590 470,635 450,600 448,560"/>
<polygon fill="#96bb32" stroke="#96bb32" stroke-width="1.5" points="385,715 420,670 465,643 488,665 465,700 440,730 400,757 388,745"/>
<polygon fill="#96bb32" stroke="#96bb32" stroke-width="1.5" points="525,680 580,645 585,700 560,720 545,705"/>
<polygon fill="#96bb32" stroke="#96bb32" stroke-width="1.5" points="125,635 150,630 168,650 150,668 128,660"/>
<polygon fill="#96bb32" stroke="#96bb32" stroke-width="1.5" points="328,775 345,768 335,800 322,800"/>
<polygon fill="#96bb32" stroke="#96bb32" stroke-width="1.5" points="-10,745 40,760 60,780 85,770 90,720 115,685 150,690 170,720 175,770 150,790 110,800 80,830 70,860 -10,860"/>
<polygon fill="#bcee68" stroke="#bcee68" stroke-width="1.5" points="95,760 105,730 130,715 150,730 155,765 130,785 105,780"/>
</g></g>
<clipPath id="k3C"><rect x="146" y="744" width="79" height="106"/></clipPath>
<g clip-path="url(#k3C)"><g transform="translate(146,638) scale(0.25040)">
<rect x="-50" y="-50" width="800" height="1000" fill="#ffdd00"/>
<polygon fill="#deb887" stroke="#deb887" stroke-width="1.5" points="150,424 165,445 195,458 235,448 275,442 320,425 320,400 150,400"/>
<polygon fill="#deb887" stroke="#deb887" stroke-width="1.5" points="55,540 100,548 135,540 150,515 165,560 175,595 215,600 228,640 240,690 255,725 245,745 200,720 108,620"/>
<polygon fill="#f5e3ba" stroke="#f5e3ba" stroke-width="1.5" points="100,570 140,575 165,610 200,640 215,690 235,730 200,715 150,660 108,610"/>
<polygon fill="#96bb32" stroke="#96bb32" stroke-width="1.5" points="110,600 135,598 138,625 118,620"/>
<polygon fill="#ffa500" stroke="#ffa500" stroke-width="1.5" points="185,515 205,485 255,478 265,500 250,540 200,545"/>
</g></g>
<clipPath id="k3F"><rect x="146" y="640" width="79" height="106"/></clipPath>
<g clip-path="url(#k3F)"><g transform="translate(146,640) scale(0.12520)">
<rect x="-50" y="-50" width="800" height="1000" fill="#ffdd00"/>
<polygon fill="#deb887" stroke="#deb887" stroke-width="1.5" points="230,-10 320,15 400,25 470,40 520,20 545,-10"/>
<polygon fill="#ffa500" stroke="#ffa500" stroke-width="1.5" points="10,360 50,260 85,170 115,120 150,115 175,145 180,190 150,230 135,290 110,330 60,350"/>
<polygon fill="#deb887" stroke="#deb887" stroke-width="1.5" points="640,190 600,230 580,285 560,300 480,305 400,310 330,320 270,335 230,375 200,420 150,500 120,560 80,610 40,640 30,680 55,720 100,750 140,740 200,755 250,740 300,725 350,745 390,770 395,800 370,830 330,860 640,860"/>
<polygon fill="#f5e3ba" stroke="#f5e3ba" stroke-width="1.5" points="95,655 100,610 130,555 165,505 200,455 250,430 310,425 345,455 390,490 430,530 470,565 480,590 450,620 420,650 395,665 380,685 340,682 290,667 230,660 180,682 130,692"/>
<polygon fill="#96bb32" stroke="#96bb32" stroke-width="1.5" points="215,490 260,480 315,490 320,520 300,540 240,535 220,510"/>
<polygon fill="#f5e3ba" stroke="#f5e3ba" stroke-width="1.5" points="535,420 560,390 600,375 640,370 640,450 600,445 560,455"/>
<polygon fill="#f5e3ba" stroke="#f5e3ba" stroke-width="1.5" points="535,860 560,800 600,762 640,745 640,860"/>
</g></g>
<clipPath id="k3E"><rect x="225" y="640" width="79" height="106"/></clipPath>
<g clip-path="url(#k3E)"><g transform="translate(225,640) scale(0.12520)">
<rect x="-50" y="-50" width="800" height="1000" fill="#f5e3ba"/>
<polygon fill="#deb887" stroke="#deb887" stroke-width="1.5" points="-10,240 40,200 80,160 100,125 160,100 230,90 260,95 290,125 320,160 355,180 390,160 410,120 440,95 500,85 570,75 640,70 640,-10 -10,-10"/>
<polygon fill="#ffdd00" stroke="#ffdd00" stroke-width="1.5" points="-10,165 30,140 90,100 150,75 220,65 290,60 320,40 340,10 345,-10 -10,-10"/>
<polygon fill="#ffdd00" stroke="#ffdd00" stroke-width="1.5" points="340,-10 340,15 360,40 420,45 470,35 500,5 510,-10"/>
<polygon fill="#deb887" stroke="#deb887" stroke-width="1.5" points="-10,560 30,585 70,610 100,600 140,590 180,575 215,560 250,580 290,600 300,640 330,650 380,670 385,720 370,780 350,860 -10,860"/>
<polygon fill="#ffdd00" stroke="#ffdd00" stroke-width="1.5" points="60,860 100,790 150,720 180,680 230,655 280,665 310,700 315,740 300,790 270,830 250,860"/>
<polygon fill="#deb887" stroke="#deb887" stroke-width="1.5" points="235,420 260,375 295,340 320,380 360,430 400,470 425,510 415,545 370,555 340,535 300,490 260,455"/>
<polygon fill="#deb887" stroke="#deb887" stroke-width="1.5" points="430,330 470,315 520,315 550,335 520,370 495,405 465,400 440,365"/>
<polygon fill="#deb887" stroke="#deb887" stroke-width="1.5" points="560,335 600,330 640,335 640,400 600,380 570,350"/>
<polygon fill="#deb887" stroke="#deb887" stroke-width="1.5" points="-10,280 30,290 45,330 20,350 -10,345"/>
<polygon fill="#96bb32" stroke="#96bb32" stroke-width="1.5" points="470,860 500,830 535,775 560,820 570,860"/>
<polygon fill="#bcee68" stroke="#bcee68" stroke-width="1.5" points="505,860 525,815 545,860"/>
</g></g>
<clipPath id="k3H"><rect x="225" y="744" width="79" height="106"/></clipPath>
<g clip-path="url(#k3H)"><g transform="translate(225,744) scale(0.12520)">
<rect x="-50" y="-50" width="800" height="1000" fill="#f5e3ba"/>
<polygon fill="#deb887" stroke="#deb887" stroke-width="1.5" points="-10,-10 355,-10 340,40 300,85 275,135 250,185 225,225 200,270 195,300 165,350 135,400 125,440 150,460 195,480 210,530 215,580 205,640 225,700 235,750 245,810 -10,780"/>
<polygon fill="#ffdd00" stroke="#ffdd00" stroke-width="1.5" points="-10,-10 285,-10 265,40 240,100 210,170 195,215 170,260 160,310 135,360 105,420 100,450 130,475 175,495 185,540 180,600 185,680 200,740 215,790 -10,770"/>
<polygon fill="#ffa500" stroke="#ffa500" stroke-width="1.5" points="-10,350 20,340 30,285 40,290 40,340 70,355 60,400 20,435 -10,430"/>
<polygon fill="#ffa500" stroke="#ffa500" stroke-width="1.5" points="-10,545 60,530 120,525 150,550 160,620 165,700 160,775 -10,730"/>
<polygon fill="#ff4500" stroke="#ff4500" stroke-width="1.5" points="35,590 95,565 130,590 140,650 140,720 100,750 35,715"/>
<polygon fill="#96bb32" stroke="#96bb32" stroke-width="1.5" points="250,250 290,215 340,170 400,140 430,100 470,55 500,20 545,5 590,20 640,55 640,290 610,350 590,430 570,500 550,560 510,580 470,575 430,570 390,580 350,620 300,680 250,725 225,670 205,590 215,565 270,520 300,490 270,480 230,450 175,430 165,400 180,375 230,365 250,330 235,300"/>
<polygon fill="#f5e3ba" stroke="#f5e3ba" stroke-width="1.5" points="235,320 260,305 300,325 340,340 350,365 320,385 275,400 240,375 230,345"/>
<polygon fill="#bcee68" stroke="#bcee68" stroke-width="1.5" points="285,255 330,215 370,185 430,170 450,130 480,80 520,35 550,25 590,45 640,90 640,150 620,250 600,330 580,420 560,500 530,525 480,520 430,525 380,560 330,620 270,680 230,640 215,580 260,545 300,510 310,430 380,395 405,370 395,320 360,300 310,290"/>
<polygon fill="#20b2aa" stroke="#20b2aa" stroke-width="1.5" points="365,215 390,195 440,185 470,140 500,80 530,40 560,40 600,75 640,120 640,140 615,250 595,330 575,420 545,490 510,510 470,500 420,505 370,540 320,600 270,650 235,620 230,585 275,555 320,525 330,450 400,420 425,380 410,300 400,265 370,260"/>
<polygon fill="#20b2aa" stroke="#20b2aa" stroke-width="1.5" points="325,258 345,262 342,277 327,273"/>
<polygon fill="#b0e0e6" stroke="#b0e0e6" stroke-width="1.5" points="455,300 480,250 520,190 550,170 575,205 560,280 530,360 505,420 480,425 465,380"/>
<polygon fill="#deb887" stroke="#deb887" stroke-width="1.5" points="245,790 270,760 320,720 340,680 380,660 420,665 450,650 500,655 530,690 545,730 540,790 520,840 250,820"/>
<polygon fill="#ffdd00" stroke="#ffdd00" stroke-width="1.5" points="405,705 450,685 465,720 445,760 425,800 405,835 395,800 410,750"/>
<polygon fill="#ffdd00" stroke="#ffdd00" stroke-width="1.5" points="290,775 330,800 370,810 395,800 400,840 300,820"/>
</g></g>
<clipPath id="k3I"><rect x="304" y="744" width="79" height="106"/></clipPath>
<g clip-path="url(#k3I)"><g transform="translate(304,744) scale(0.12520)">
<rect x="-50" y="-50" width="800" height="1000" fill="#f5e3ba"/>
<polygon fill="#96bb32" stroke="#96bb32" stroke-width="1.5" points="-10,-10 190,-10 200,40 180,85 130,100 90,95 60,130 20,150 -10,230"/>
<polygon fill="#bcee68" stroke="#bcee68" stroke-width="1.5" points="40,-10 165,-10 170,40 130,75 80,60 45,40"/>
<polygon fill="#bcee68" stroke="#bcee68" stroke-width="1.5" points="-10,90 40,85 75,100 30,130 -10,160"/>
<polygon fill="#deb887" stroke="#deb887" stroke-width="1.5" points="-10,300 40,290 60,340 30,420 -10,430"/>
<polygon fill="#96bb32" stroke="#96bb32" stroke-width="1.5" points="360,280 380,200 430,135 495,125 515,175 490,240 465,295 410,285"/>
<polygon fill="#96bb32" stroke="#96bb32" stroke-width="1.5" points="510,100 525,55 545,50 535,80 520,110"/>
<polygon fill="#96bb32" stroke="#96bb32" stroke-width="1.5" points="322,300 350,295 375,375 360,380"/>
<polygon fill="#96bb32" stroke="#96bb32" stroke-width="1.5" points="150,395 175,405 215,445 255,430 285,430 250,460 215,480 210,520 220,580 225,640 180,675 130,670 135,600 140,520 135,450"/>
<polygon fill="#deb887" stroke="#deb887" stroke-width="1.5" points="640,315 590,345 540,380 490,410 470,430 465,500 455,560 440,620 400,665 370,670 340,650 310,620 290,660 250,700 200,730 150,735 100,715 70,720 55,780 50,860 640,860"/>
<polygon fill="#ffdd00" stroke="#ffdd00" stroke-width="1.5" points="640,355 590,385 560,420 582,480 545,500 500,530 490,570 495,650 640,650"/>
<polygon fill="#ffdd00" stroke="#ffdd00" stroke-width="1.5" points="265,758 320,730 365,712 390,700 320,770"/>
</g></g>
<clipPath id="k3K"><rect x="383" y="720" width="58" height="110"/></clipPath>
<g clip-path="url(#k3K)"><g transform="translate(362,720) scale(0.12520)">
<rect x="-50" y="-50" width="800" height="1000" fill="#f5e3ba"/>
<polygon fill="#96bb32" stroke="#96bb32" stroke-width="1.5" points="165,125 205,95 225,45 290,10 335,-5 365,40 330,100 300,170 230,185 185,220 165,190"/>
<polygon fill="#96bb32" stroke="#96bb32" stroke-width="1.5" points="440,55 490,35 540,-5 600,0 525,110 500,140 470,100"/>
<polygon fill="#deb887" stroke="#deb887" stroke-width="1.5" points="385,110 405,150 395,240 360,290 355,345 335,395 355,440 340,510 310,600 200,720 40,850 -10,850 -10,625 40,590 100,550 160,510 215,460 250,410 265,360 270,300 285,260 330,230 355,170"/>
<polygon fill="#ffdd00" stroke="#ffdd00" stroke-width="1.5" points="100,600 130,570 170,548 215,575 245,600 265,640 180,730 40,850 25,800 25,760 40,720 80,695 125,685 115,650 95,620"/>
<polygon fill="#ffdd00" stroke="#ffdd00" stroke-width="1.5" points="255,520 300,515 280,550 258,568"/>
</g></g>
<clipPath id="k3L"><rect x="167" y="575" width="79" height="106"/></clipPath>
<g clip-path="url(#k3L)"><g transform="translate(167,575) scale(0.12520)">
<rect x="-50" y="-50" width="800" height="1000" fill="#ffdd00"/>
<polygon fill="#deb887" stroke="#deb887" stroke-width="1.5" points="-10,505 100,520 200,540 300,555 350,545 375,500 385,430 430,412 480,395 540,372 575,340 600,290 640,250 640,-10 -10,-10"/>
<polygon fill="#f5e3ba" stroke="#f5e3ba" stroke-width="1.5" points="-10,460 40,425 130,420 230,415 305,425 305,500 280,510 200,495 100,480 -10,468"/>
<polygon fill="#f5e3ba" stroke="#f5e3ba" stroke-width="1.5" points="270,385 310,360 380,340 440,330 480,300 500,260 540,215 580,170 640,110 640,150 600,200 560,260 540,300 500,340 440,360 380,370 320,385 290,395"/>
<polygon fill="#96bb32" stroke="#96bb32" stroke-width="1.5" points="-10,415 100,420 210,418 250,400 290,365 340,345 400,330 450,315 475,280 495,245 530,200 575,150 640,95 640,-10 -10,-10"/>
<polygon fill="#bcee68" stroke="#bcee68" stroke-width="1.5" points="100,330 160,325 250,300 330,275 385,255 380,180 388,70 250,150"/>
<polygon fill="#20b2aa" stroke="#20b2aa" stroke-width="1.5" points="245,180 270,170 268,198"/>
<polygon fill="#ffa500" stroke="#ffa500" stroke-width="1.5" points="-10,655 10,690 -10,725"/>
<polygon fill="#deb887" stroke="#deb887" stroke-width="1.5" points="640,595 580,620 540,640 490,670 450,720 430,760 410,800 415,860 640,860"/>
<polygon fill="#f5e3ba" stroke="#f5e3ba" stroke-width="1.5" points="640,650 590,690 560,720 530,745 500,780 480,820 470,860 640,860"/>
<polygon fill="#deb887" stroke="#deb887" stroke-width="1.5" points="220,860 260,822 330,825 380,840 400,860"/>
</g></g>
<clipPath id="k3M"><rect x="246" y="558" width="79" height="108"/></clipPath>
<g clip-path="url(#k3M)"><g transform="translate(246,560) scale(0.12520)">
<rect x="-50" y="-50" width="800" height="1000" fill="#ffdd00"/>
<polygon fill="#deb887" stroke="#deb887" stroke-width="1.5" points="225,52 282,47 275,120 280,200 270,262 210,290 180,262 150,237 110,240 70,265 30,300 -10,335 -10,-10 225,-10"/>
<polygon fill="#f5e3ba" stroke="#f5e3ba" stroke-width="1.5" points="82,72 225,52 215,82 190,112 150,135 110,170 70,205 30,255 -10,300 -10,-10 82,-10"/>
<polygon fill="#96bb32" stroke="#96bb32" stroke-width="1.5" points="-10,-10 80,-10 80,72 85,110 50,150 -10,205"/>
<polygon fill="#deb887" stroke="#deb887" stroke-width="1.5" points="480,-10 490,100 520,140 570,160 640,165 640,-10"/>
<polygon fill="#f5e3ba" stroke="#f5e3ba" stroke-width="1.5" points="572,-10 590,112 640,138 640,-10"/>
<polygon fill="#ffa500" stroke="#ffa500" stroke-width="1.5" points="315,350 340,330 400,322 450,330 480,355 500,400 515,450 500,510 450,525 400,515 365,490 335,450 305,420 308,380"/>
<polygon fill="#deb887" stroke="#deb887" stroke-width="1.5" points="-10,705 60,695 130,685 180,680 230,695 290,680 320,640 360,625 420,635 470,640 520,650 570,660 640,690 640,860 -10,860"/>
<polygon fill="#f5e3ba" stroke="#f5e3ba" stroke-width="1.5" points="-10,745 80,735 130,770 160,815 200,810 230,770 270,735 330,720 400,715 470,700 520,690 560,710 600,750 640,790 640,860 -10,860"/>
</g></g>
<clipPath id="k3N"><rect x="325" y="558" width="79" height="108"/></clipPath>
<g clip-path="url(#k3N)"><g transform="translate(325,560) scale(0.12520)">
<rect x="-50" y="-50" width="800" height="1000" fill="#deb887"/>
<polygon fill="#ffdd00" stroke="#ffdd00" stroke-width="1.5" points="-10,-10 115,-10 300,222 290,260 300,310 320,370 290,395 240,385 195,370 150,385 120,405 100,430 95,450 120,490 155,540 185,600 180,650 150,700 120,745 60,725 -10,690"/>
<polygon fill="#deb887" stroke="#deb887" stroke-width="1.5" points="-10,-10 130,-10 115,125 60,150 -10,155"/>
<polygon fill="#f5e3ba" stroke="#f5e3ba" stroke-width="1.5" points="-10,90 40,105 30,130 -10,138"/>
<polygon fill="#f5e3ba" stroke="#f5e3ba" stroke-width="1.5" points="135,460 175,470 230,500 225,525 190,520 150,485"/>
<polygon fill="#f5e3ba" stroke="#f5e3ba" stroke-width="1.5" points="335,245 355,300 348,340 378,400 412,430 440,452 490,445 530,422 600,440 450,300"/>
<polygon fill="#f5e3ba" stroke="#f5e3ba" stroke-width="1.5" points="440,490 500,455 520,500 500,545 470,555 445,520"/>
<polygon fill="#f5e3ba" stroke="#f5e3ba" stroke-width="1.5" points="520,600 560,610 640,650 640,860 470,860 490,800 500,740 510,660"/>
<polygon fill="#ffdd00" stroke="#ffdd00" stroke-width="1.5" points="610,510 640,540 640,590 612,570"/>
<polygon fill="#f5e3ba" stroke="#f5e3ba" stroke-width="1.5" points="-10,790 30,800 60,810 100,830 110,860 -10,860"/>
</g></g>
<clipPath id="k3P"><rect x="304" y="640" width="79" height="106"/></clipPath>
<g clip-path="url(#k3P)"><g transform="translate(304,640) scale(0.12520)">
<rect x="-50" y="-50" width="800" height="1000" fill="#f5e3ba"/>
<polygon fill="#deb887" stroke="#deb887" stroke-width="1.5" points="-10,60 60,45 100,60 150,90 200,130 260,170 320,195 380,210 440,200 480,230 530,225 600,205 640,200 640,-10 -10,-10"/>
<polygon fill="#ffdd00" stroke="#ffdd00" stroke-width="1.5" points="70,-10 110,20 170,50 230,80 290,100 320,60 350,15 355,-10"/>
<polygon fill="#deb887" stroke="#deb887" stroke-width="1.5" points="-10,340 35,340 45,375 30,400 -10,405"/>
<polygon fill="#deb887" stroke="#deb887" stroke-width="1.5" points="500,625 540,600 600,570 640,545 640,640 600,660 560,675 520,670 500,650"/>
<polygon fill="#96bb32" stroke="#96bb32" stroke-width="1.5" points="105,615 135,605 170,615 190,645 175,670 135,675 110,650"/>
<polygon fill="#96bb32" stroke="#96bb32" stroke-width="1.5" points="20,860 30,800 55,750 80,720 110,715 140,740 165,780 185,830 190,860"/>
<polygon fill="#bcee68" stroke="#bcee68" stroke-width="1.5" points="50,860 70,810 110,780 145,800 165,860"/>
<polygon fill="#bcee68" stroke="#bcee68" stroke-width="1.5" points="625,760 640,755 640,800 625,795"/>
</g></g>
<clipPath id="k3Q"><rect x="383" y="625" width="58" height="97"/></clipPath>
<g clip-path="url(#k3Q)"><g transform="translate(362,625) scale(0.12520)">
<rect x="-50" y="-50" width="800" height="1000" fill="#f5e3ba"/>
<polygon fill="#deb887" stroke="#deb887" stroke-width="1.5" points="-10,-10 340,-10 600,400 560,600 530,590 490,540 450,490 440,440 415,395 420,330 415,270 405,200 375,150 330,110 300,60 280,90 235,80 210,125 210,200 200,260 185,310 120,330 60,340 20,355 -10,350"/>
<polygon fill="#ffdd00" stroke="#ffdd00" stroke-width="1.5" points="312,-10 318,45 360,92 402,118 440,100 340,-10"/>
<polygon fill="#ffdd00" stroke="#ffdd00" stroke-width="1.5" points="443,210 458,280 483,360 498,420 522,452 560,440 500,250"/>
<polygon fill="#96bb32" stroke="#96bb32" stroke-width="1.5" points="305,515 325,512 350,560 360,610 370,650 345,700 320,735 295,690 288,650 300,600"/>
<polygon fill="#96bb32" stroke="#96bb32" stroke-width="1.5" points="205,860 230,800 320,752 345,770 368,795 345,830 335,860"/>
<polygon fill="#96bb32" stroke="#96bb32" stroke-width="1.5" points="440,810 500,790 560,750 560,860 460,860"/>
<polygon fill="#deb887" stroke="#deb887" stroke-width="1.5" points="460,705 490,675 500,705 490,740"/>
</g></g>
<clipPath id="k3R"><rect x="146" y="744" width="79" height="106"/></clipPath>
<g clip-path="url(#k3R)"><g transform="translate(160,730) scale(0.12520)">
<rect x="-50" y="-50" width="800" height="1000" fill="#ffdd00"/>
<polygon fill="#deb887" stroke="#deb887" stroke-width="1.5" points="230,120 265,95 290,60 285,-10 640,-10 640,60 600,100 560,140 500,160 440,170 380,175 320,178 280,170 250,150"/>
<polygon fill="#f5e3ba" stroke="#f5e3ba" stroke-width="1.5" points="430,120 470,90 500,50 540,15 560,30 520,80 480,125 445,145"/>
<polygon fill="#ffa500" stroke="#ffa500" stroke-width="1.5" points="262,320 300,245 345,225 400,215 418,235 400,290 385,345 320,355 285,345"/>
<polygon fill="#ffa500" stroke="#ffa500" stroke-width="1.5" points="495,535 520,490 540,445 548,395 558,400 560,450 590,465 575,510 540,545 510,548"/>
<polygon fill="#deb887" stroke="#deb887" stroke-width="1.5" points="40,400 100,385 150,370 200,360 215,400 240,445 270,465 320,460 340,490 345,530 360,580 385,640 405,700 395,760 200,640 40,450"/>
<polygon fill="#f5e3ba" stroke="#f5e3ba" stroke-width="1.5" points="90,455 160,430 200,425 215,470 240,510 280,540 320,580 350,630 375,690 370,740 220,640 100,500"/>
<polygon fill="#96bb32" stroke="#96bb32" stroke-width="1.5" points="100,470 160,455 168,500 160,535 135,520"/>
<polygon fill="#ffa500" stroke="#ffa500" stroke-width="1.5" points="490,660 560,655 640,640 640,860 540,860 470,790 510,770 520,730 500,690"/>
<polygon fill="#ff4500" stroke="#ff4500" stroke-width="1.5" points="555,710 600,680 640,690 640,860 560,860 550,770"/>
</g></g>

<line x1="288.85" y1="742" x2="288.85" y2="850" stroke="#f5e3ba" stroke-opacity="0.6" stroke-width="0.8"/>
<use href="#coast" transform="translate(145.65,458.1)"/></g>
<circle cx="288.8" cy="706.9" r="141.5" fill="none" stroke="#000" stroke-width="1"/>
</svg>
</body></html>
